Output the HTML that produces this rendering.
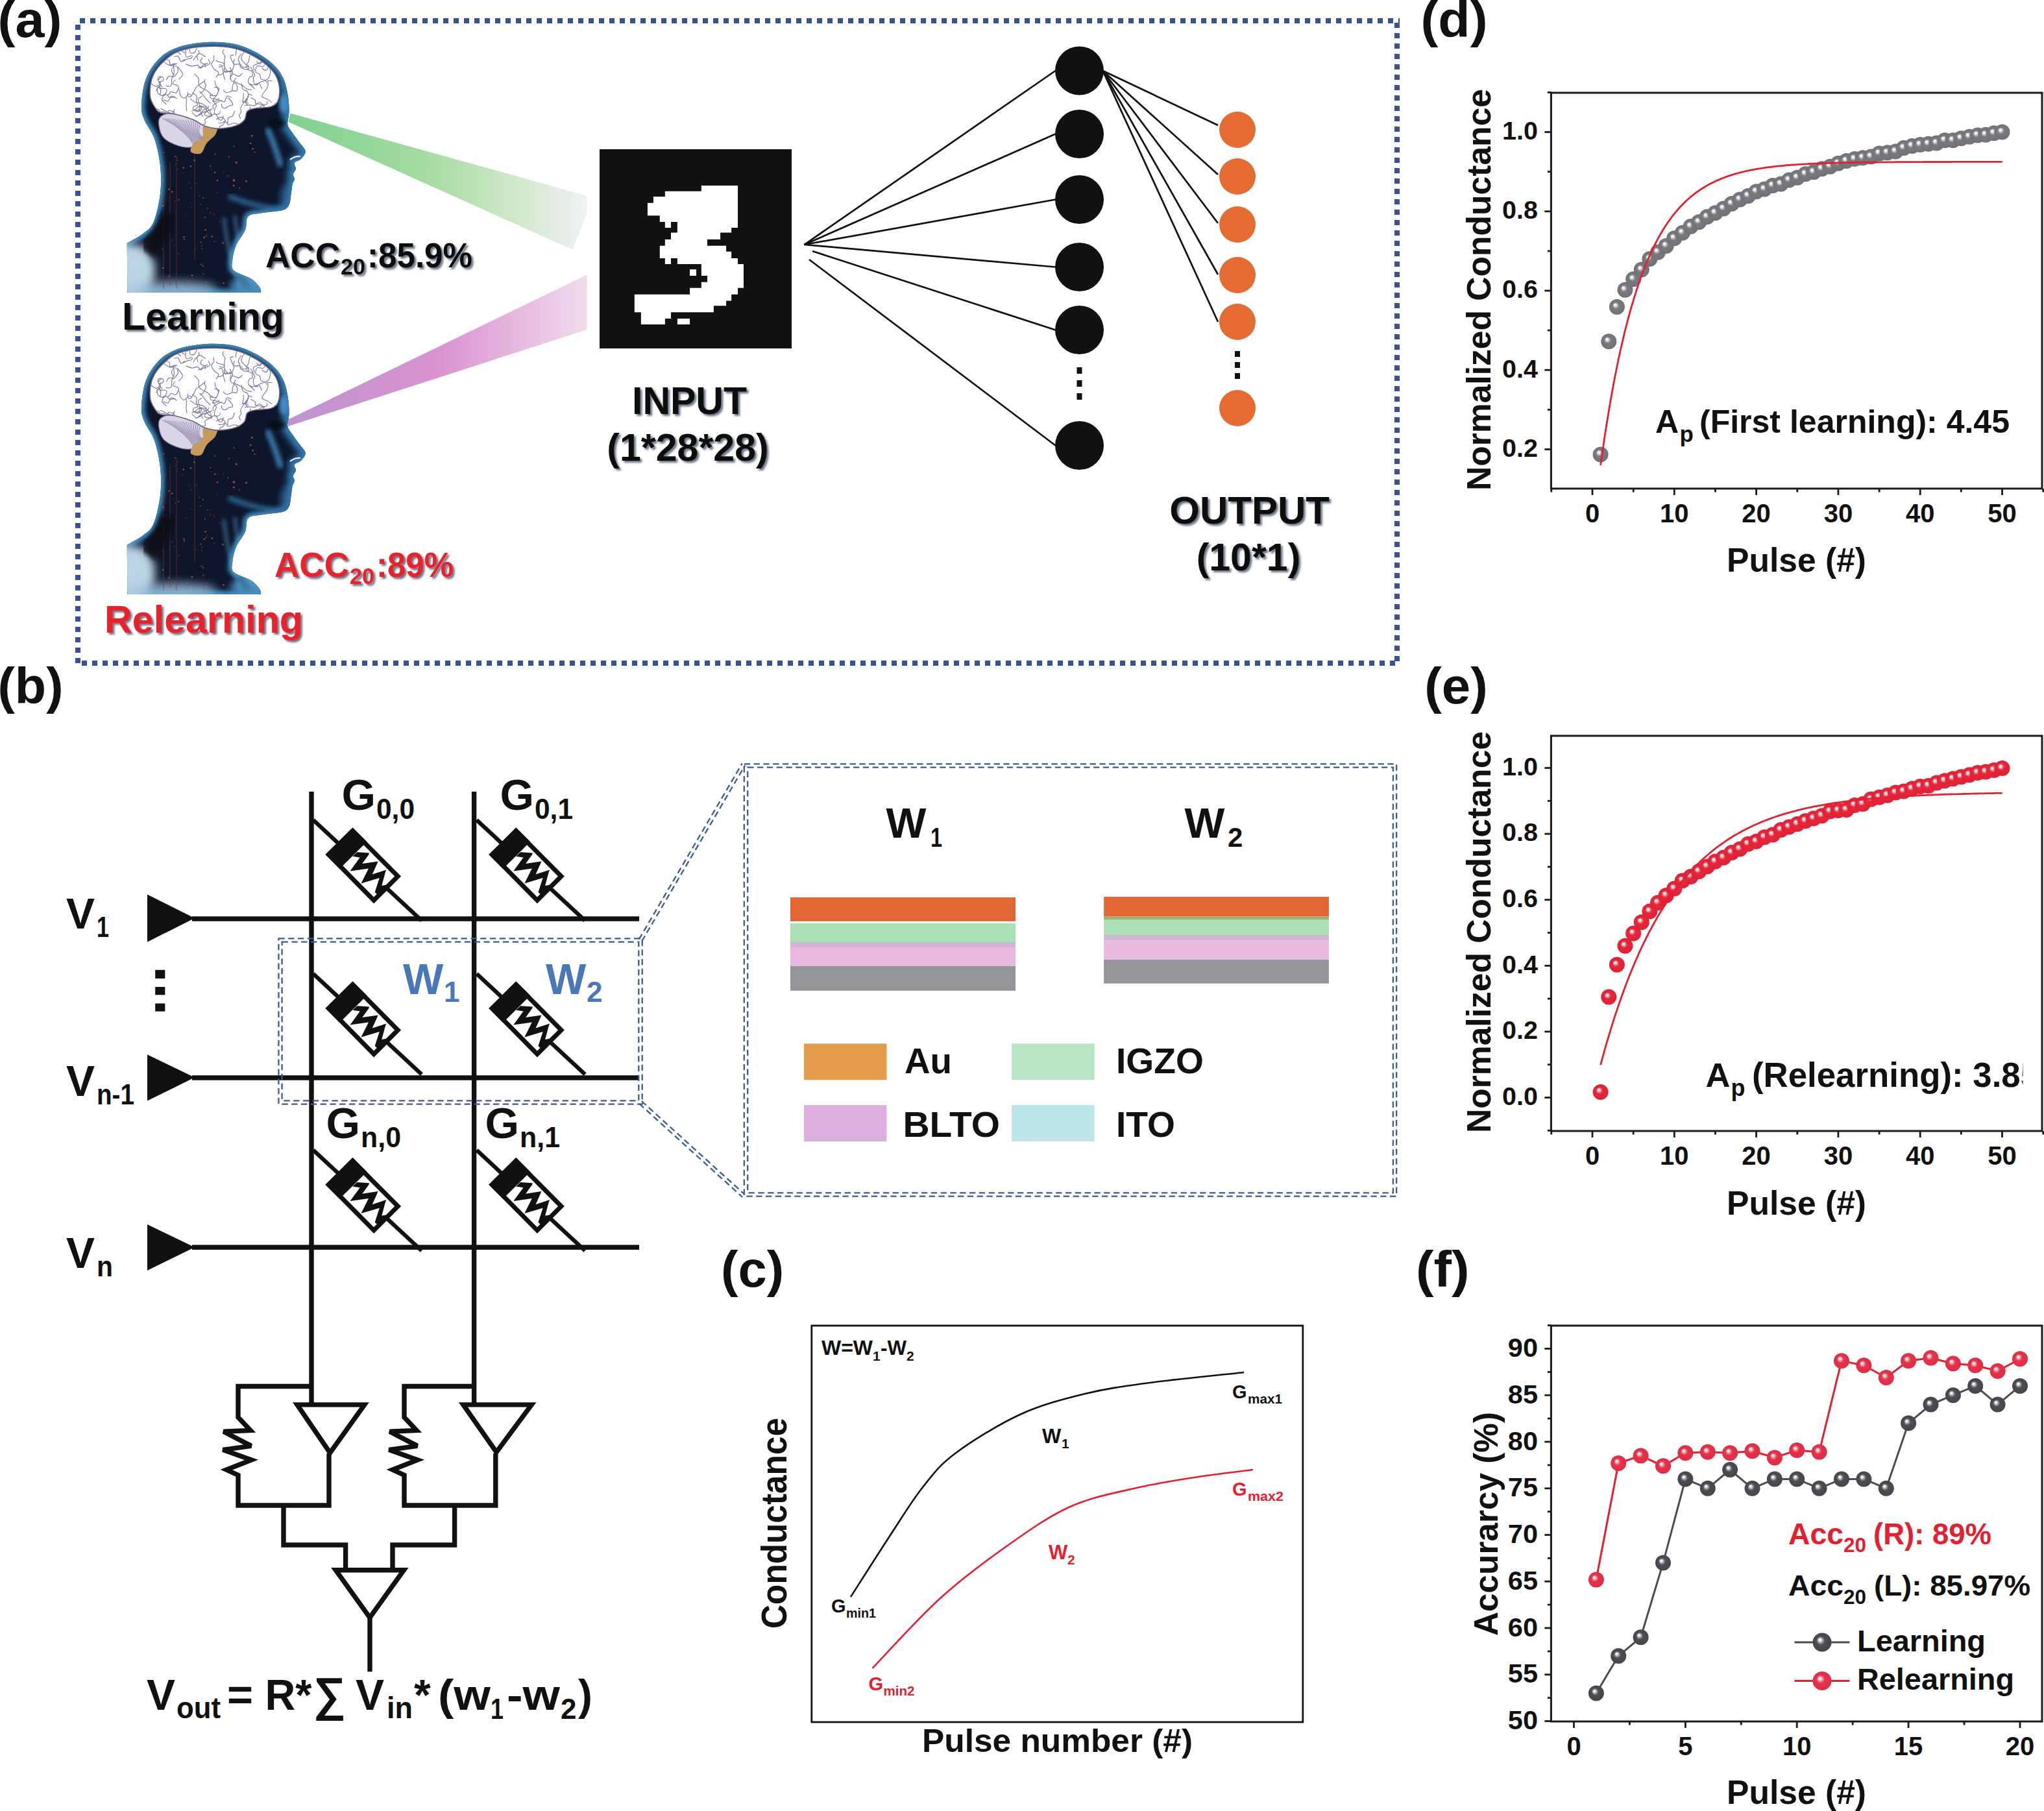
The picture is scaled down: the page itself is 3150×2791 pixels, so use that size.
<!DOCTYPE html>
<html><head><meta charset="utf-8"><title>figure</title>
<style>
html,body{margin:0;padding:0;background:#fff;}
svg{display:block;}
text{font-family:"Liberation Sans",sans-serif;}
</style></head>
<body>
<svg width="3150" height="2791" viewBox="0 0 3150 2791">
<rect width="3150" height="2791" fill="#fff"/>

<defs>
 <linearGradient id="gBeam" x1="446" y1="0" x2="905" y2="0" gradientUnits="userSpaceOnUse">
  <stop offset="0" stop-color="#80d191"/>
  <stop offset="0.45" stop-color="#a4dba0"/>
  <stop offset="0.75" stop-color="#cfe8c8"/>
  <stop offset="1" stop-color="#f0f2f7"/>
 </linearGradient>
 <linearGradient id="pBeam" x1="446" y1="0" x2="905" y2="0" gradientUnits="userSpaceOnUse">
  <stop offset="0" stop-color="#c093d2"/>
  <stop offset="0.5" stop-color="#d993cf"/>
  <stop offset="0.8" stop-color="#e8bde2"/>
  <stop offset="1" stop-color="#f0dcee"/>
 </linearGradient>
 <radialGradient id="sphG" cx="0.5" cy="0.5" r="0.5" fx="0.37" fy="0.35">
  <stop offset="0" stop-color="#ffffff"/>
  <stop offset="0.12" stop-color="#f2f2f3"/>
  <stop offset="0.3" stop-color="#a9abaf"/>
  <stop offset="0.42" stop-color="#787a80"/>
  <stop offset="1" stop-color="#707278"/>
 </radialGradient>
 <radialGradient id="sphR" cx="0.5" cy="0.5" r="0.5" fx="0.37" fy="0.35">
  <stop offset="0" stop-color="#ffffff"/>
  <stop offset="0.12" stop-color="#fbe6e9"/>
  <stop offset="0.3" stop-color="#ee6d7d"/>
  <stop offset="0.42" stop-color="#e5263b"/>
  <stop offset="1" stop-color="#df2236"/>
 </radialGradient>
 <radialGradient id="sphD" cx="0.5" cy="0.5" r="0.5" fx="0.37" fy="0.35">
  <stop offset="0" stop-color="#ffffff"/>
  <stop offset="0.12" stop-color="#eeeeef"/>
  <stop offset="0.3" stop-color="#8e9095"/>
  <stop offset="0.45" stop-color="#4b4d53"/>
  <stop offset="1" stop-color="#44464c"/>
 </radialGradient>
 <radialGradient id="sphF" cx="0.5" cy="0.5" r="0.5" fx="0.37" fy="0.35">
  <stop offset="0" stop-color="#ffffff"/>
  <stop offset="0.12" stop-color="#fbe7ea"/>
  <stop offset="0.3" stop-color="#ee7687"/>
  <stop offset="0.45" stop-color="#e3324a"/>
  <stop offset="1" stop-color="#df2d45"/>
 </radialGradient>
 <filter id="tsh" x="-5%" y="-10%" width="115%" height="130%">
  <feGaussianBlur in="SourceAlpha" stdDeviation="1.6"/>
  <feOffset dx="3" dy="3" result="b"/>
  <feFlood flood-color="#3c4660" flood-opacity="0.75"/>
  <feComposite in2="b" operator="in"/>
  <feMerge><feMergeNode/><feMergeNode in="SourceGraphic"/></feMerge>
 </filter>
</defs>

<defs>
<clipPath id="silClip"><path d="M195.8,374.7 C199.9,372.3 213.4,365.5 220.2,360.2 C227.0,354.9 232.0,352.8 236.4,342.8 C240.8,332.8 245.0,314.4 246.8,300.0 C248.6,285.6 248.6,270.7 247.1,256.3 C245.6,241.9 242.0,225.5 237.9,213.6 C233.8,201.7 225.8,193.2 222.5,184.7 C219.2,176.2 217.6,172.8 218.0,162.4 C218.4,152.0 220.2,134.0 224.7,122.1 C229.2,110.2 236.7,99.0 244.9,90.8 C253.1,82.6 261.6,77.2 273.9,72.9 C286.2,68.6 304.5,66.0 318.7,65.1 C332.9,64.2 346.6,64.9 358.9,67.3 C371.2,69.7 382.1,74.2 392.5,79.6 C402.9,85.0 414.2,92.6 421.6,99.7 C429.1,106.8 433.5,113.9 437.2,122.1 C440.9,130.3 442.5,140.4 443.9,148.9 C445.3,157.4 445.5,165.8 445.4,173.0 C445.3,180.2 442.4,186.8 443.3,192.0 C444.2,197.2 447.7,200.0 450.6,204.5 C453.6,209.0 457.7,214.3 461.0,219.0 C464.3,223.7 470.1,228.7 470.6,232.9 C471.2,237.1 467.1,241.4 464.3,244.4 C461.5,247.4 455.2,248.1 453.8,250.7 C452.4,253.3 456.2,257.1 455.9,260.1 C455.5,263.1 452.0,265.9 451.7,268.5 C451.4,271.1 454.0,273.3 453.8,275.9 C453.6,278.5 451.5,280.4 450.6,284.3 C449.7,288.2 449.4,293.8 448.5,299.0 C447.6,304.2 447.7,311.5 445.4,315.7 C443.1,319.9 441.9,322.0 434.9,324.1 C427.9,326.2 412.1,326.7 403.4,328.3 C394.7,329.9 386.8,329.2 382.5,333.6 C378.2,338.0 381.0,347.1 377.9,354.4 C374.8,361.7 367.3,369.9 364.0,377.6 C360.7,385.3 358.8,394.3 358.2,400.8 C357.6,407.3 355.4,411.9 360.2,416.7 C365.0,421.5 380.5,425.4 387.2,429.8 C393.9,434.2 397.7,439.5 400.2,443.0 C402.7,446.5 401.9,449.7 402.2,451.0 L196.4,451 Z"/></clipPath>
<clipPath id="cbClip"><path d="M244.9,193.7 C244.2,188.5 243.8,183.7 247.1,180.3 C250.4,176.9 257.6,174.6 265.0,173.5 C272.4,172.4 283.6,171.2 291.8,173.5 C300.0,175.8 309.0,181.4 314.2,187.0 C319.4,192.6 323.1,201.5 323.1,207.1 C323.1,212.7 319.4,217.2 314.2,220.5 C309.0,223.8 299.2,226.8 291.8,227.2 C284.4,227.6 276.2,225.3 269.5,222.7 C262.8,220.1 255.7,216.4 251.6,211.6 C247.5,206.8 245.7,198.9 244.9,193.7Z"/></clipPath>
<clipPath id="brClip"><path d="M231.4,148.9 C230.7,141.8 231.1,130.3 233.7,122.1 C236.3,113.9 240.4,106.8 247.1,99.7 C253.8,92.6 262.7,84.2 273.9,79.6 C285.1,74.9 300.0,72.7 314.2,71.8 C328.4,70.9 345.5,71.2 358.9,74.0 C372.3,76.8 384.2,82.3 394.7,88.5 C405.1,94.7 415.6,103.4 421.6,110.9 C427.6,118.4 429.4,125.9 430.5,133.3 C431.6,140.8 430.5,150.4 428.3,155.6 C426.1,160.8 422.7,162.7 417.1,164.6 C411.5,166.5 400.7,165.7 394.7,166.8 C388.7,167.9 384.3,168.3 381.3,171.3 C378.3,174.3 379.8,181.0 376.8,184.7 C373.8,188.4 370.1,191.5 363.4,193.7 C356.7,195.9 344.8,198.1 336.6,198.1 C328.4,198.1 320.6,195.9 314.2,193.7 C307.8,191.5 305.9,187.7 298.5,184.7 C291.1,181.7 278.1,177.7 269.5,175.8 C260.9,173.9 252.3,175.4 247.1,173.5 C241.9,171.6 240.8,168.7 238.2,164.6 C235.6,160.5 232.2,156.0 231.4,148.9Z"/></clipPath>
<filter id="hb3" x="-20%" y="-20%" width="140%" height="140%"><feGaussianBlur stdDeviation="3"/></filter>
<filter id="hb5" x="-50%" y="-50%" width="200%" height="200%"><feGaussianBlur stdDeviation="5"/></filter>
<filter id="hb6" x="-50%" y="-50%" width="200%" height="200%"><feGaussianBlur stdDeviation="7"/></filter>
</defs><defs>
<g id="headG">
 <path d="M195.8,374.7 C199.9,372.3 213.4,365.5 220.2,360.2 C227.0,354.9 232.0,352.8 236.4,342.8 C240.8,332.8 245.0,314.4 246.8,300.0 C248.6,285.6 248.6,270.7 247.1,256.3 C245.6,241.9 242.0,225.5 237.9,213.6 C233.8,201.7 225.8,193.2 222.5,184.7 C219.2,176.2 217.6,172.8 218.0,162.4 C218.4,152.0 220.2,134.0 224.7,122.1 C229.2,110.2 236.7,99.0 244.9,90.8 C253.1,82.6 261.6,77.2 273.9,72.9 C286.2,68.6 304.5,66.0 318.7,65.1 C332.9,64.2 346.6,64.9 358.9,67.3 C371.2,69.7 382.1,74.2 392.5,79.6 C402.9,85.0 414.2,92.6 421.6,99.7 C429.1,106.8 433.5,113.9 437.2,122.1 C440.9,130.3 442.5,140.4 443.9,148.9 C445.3,157.4 445.5,165.8 445.4,173.0 C445.3,180.2 442.4,186.8 443.3,192.0 C444.2,197.2 447.7,200.0 450.6,204.5 C453.6,209.0 457.7,214.3 461.0,219.0 C464.3,223.7 470.1,228.7 470.6,232.9 C471.2,237.1 467.1,241.4 464.3,244.4 C461.5,247.4 455.2,248.1 453.8,250.7 C452.4,253.3 456.2,257.1 455.9,260.1 C455.5,263.1 452.0,265.9 451.7,268.5 C451.4,271.1 454.0,273.3 453.8,275.9 C453.6,278.5 451.5,280.4 450.6,284.3 C449.7,288.2 449.4,293.8 448.5,299.0 C447.6,304.2 447.7,311.5 445.4,315.7 C443.1,319.9 441.9,322.0 434.9,324.1 C427.9,326.2 412.1,326.7 403.4,328.3 C394.7,329.9 386.8,329.2 382.5,333.6 C378.2,338.0 381.0,347.1 377.9,354.4 C374.8,361.7 367.3,369.9 364.0,377.6 C360.7,385.3 358.8,394.3 358.2,400.8 C357.6,407.3 355.4,411.9 360.2,416.7 C365.0,421.5 380.5,425.4 387.2,429.8 C393.9,434.2 397.7,439.5 400.2,443.0 C402.7,446.5 401.9,449.7 402.2,451.0 L196.4,451 Z" fill="#0e162c"/>
 <g clip-path="url(#silClip)">
  <path d="M195.8,374.7 C199.9,372.3 213.4,365.5 220.2,360.2 C227.0,354.9 232.0,352.8 236.4,342.8 C240.8,332.8 245.0,314.4 246.8,300.0 C248.6,285.6 248.6,270.7 247.1,256.3 C245.6,241.9 242.0,225.5 237.9,213.6 C233.8,201.7 225.8,193.2 222.5,184.7 C219.2,176.2 217.6,172.8 218.0,162.4 C218.4,152.0 220.2,134.0 224.7,122.1 C229.2,110.2 236.7,99.0 244.9,90.8 C253.1,82.6 261.6,77.2 273.9,72.9 C286.2,68.6 304.5,66.0 318.7,65.1 C332.9,64.2 346.6,64.9 358.9,67.3 C371.2,69.7 382.1,74.2 392.5,79.6 C402.9,85.0 414.2,92.6 421.6,99.7 C429.1,106.8 433.5,113.9 437.2,122.1 C440.9,130.3 442.5,140.4 443.9,148.9 C445.3,157.4 445.5,165.8 445.4,173.0 C445.3,180.2 442.4,186.8 443.3,192.0 C444.2,197.2 447.7,200.0 450.6,204.5 C453.6,209.0 457.7,214.3 461.0,219.0 C464.3,223.7 470.1,228.7 470.6,232.9 C471.2,237.1 467.1,241.4 464.3,244.4 C461.5,247.4 455.2,248.1 453.8,250.7 C452.4,253.3 456.2,257.1 455.9,260.1 C455.5,263.1 452.0,265.9 451.7,268.5 C451.4,271.1 454.0,273.3 453.8,275.9 C453.6,278.5 451.5,280.4 450.6,284.3 C449.7,288.2 449.4,293.8 448.5,299.0 C447.6,304.2 447.7,311.5 445.4,315.7 C443.1,319.9 441.9,322.0 434.9,324.1 C427.9,326.2 412.1,326.7 403.4,328.3 C394.7,329.9 386.8,329.2 382.5,333.6 C378.2,338.0 381.0,347.1 377.9,354.4 C374.8,361.7 367.3,369.9 364.0,377.6 C360.7,385.3 358.8,394.3 358.2,400.8 C357.6,407.3 355.4,411.9 360.2,416.7 C365.0,421.5 380.5,425.4 387.2,429.8 C393.9,434.2 397.7,439.5 400.2,443.0 C402.7,446.5 401.9,449.7 402.2,451.0 L196.4,451 Z" fill="none" stroke="#3f8cc0" stroke-width="11" filter="url(#hb3)"/>
  <ellipse cx="440" cy="302" rx="9" ry="16" fill="#2a6290" opacity="0.6" filter="url(#hb5)"/>
  <ellipse cx="205" cy="418" rx="34" ry="42" fill="#bcd5e6" filter="url(#hb6)"/>
  <ellipse cx="265" cy="445" rx="70" ry="12" fill="#9fc3dc" opacity="0.8" filter="url(#hb6)"/>
  <ellipse cx="380" cy="440" rx="26" ry="14" fill="#4f93c2" opacity="0.8" filter="url(#hb5)"/>
  <path d="M437.2,122.1 C438.3,126.6 442.5,140.4 443.9,148.9 C445.3,157.4 445.5,165.8 445.4,173.0 C445.3,180.2 442.4,186.8 443.3,192.0 C444.2,197.2 447.7,200.0 450.6,204.5 C453.6,209.0 457.7,214.3 461.0,219.0 C464.3,223.7 470.1,228.7 470.6,232.9 C471.2,237.1 467.1,241.4 464.3,244.4 C461.5,247.4 455.2,248.1 453.8,250.7 C452.4,253.3 456.2,257.1 455.9,260.1 C455.5,263.1 452.0,265.9 451.7,268.5 C451.4,271.1 454.0,273.3 453.8,275.9 C453.6,278.5 451.5,280.4 450.6,284.3 C449.7,288.2 449.4,293.8 448.5,299.0 C447.6,304.2 447.7,311.5 445.4,315.7 C443.1,319.9 436.6,322.7 434.9,324.1" fill="none" stroke="#2f6fa2" stroke-width="22" opacity="0.7" filter="url(#hb5)"/>
  <ellipse cx="437" cy="160" rx="7" ry="15" fill="#4a93c8" opacity="0.9" filter="url(#hb3)"/>
  <path d="M412,198 Q424,225 433,256" fill="none" stroke="#3f86bb" stroke-width="9" opacity="0.85" filter="url(#hb3)"/>
  <path d="M352,302 Q400,322 442,322" fill="none" stroke="#336fa0" stroke-width="8" opacity="0.8" filter="url(#hb3)"/>
  <ellipse cx="428" cy="190" rx="12" ry="6" fill="#05070c" opacity="0.9" filter="url(#hb3)"/>
  <path d="M447,246 Q455,240 463,241" fill="none" stroke="#e2ecf3" stroke-width="2.2"/>
  <path d="M345,335 Q350,390 372,448 M362,332 Q366,385 392,446" fill="none" stroke="#58a6d6" stroke-width="3" opacity="0.85" filter="url(#hb3)"/>
  <g fill="#c8623f" opacity="0.75"><circle cx="311.1" cy="378.2" r="0.8"/><circle cx="275.4" cy="391.0" r="0.8"/><circle cx="318.7" cy="439.4" r="1.0"/><circle cx="307.3" cy="301.7" r="0.8"/><circle cx="281.2" cy="266.6" r="0.6"/><circle cx="265.6" cy="369.7" r="0.8"/><circle cx="286.5" cy="441.4" r="1.0"/><circle cx="319.7" cy="320.7" r="0.8"/><circle cx="260.4" cy="425.5" r="1.0"/><circle cx="269.6" cy="310.4" r="0.6"/><circle cx="251.2" cy="413.0" r="1.3"/><circle cx="315.9" cy="335.1" r="1.0"/><circle cx="294.0" cy="256.2" r="1.3"/><circle cx="250.5" cy="278.3" r="1.3"/><circle cx="316.6" cy="354.2" r="1.3"/><circle cx="330.4" cy="371.9" r="0.8"/><circle cx="314.6" cy="366.1" r="1.3"/><circle cx="291.1" cy="282.2" r="0.6"/><circle cx="335.0" cy="278.3" r="1.3"/><circle cx="317.7" cy="363.5" r="1.0"/><circle cx="330.7" cy="331.2" r="0.6"/><circle cx="309.0" cy="315.1" r="0.8"/><circle cx="335.0" cy="297.2" r="0.6"/><circle cx="286.9" cy="332.8" r="0.6"/><circle cx="253.6" cy="344.5" r="0.8"/><circle cx="318.0" cy="434.3" r="0.8"/><circle cx="299.3" cy="247.2" r="1.3"/><circle cx="301.4" cy="382.8" r="0.6"/><circle cx="310.7" cy="407.4" r="1.0"/><circle cx="289.0" cy="433.6" r="0.8"/><circle cx="344.1" cy="265.4" r="0.6"/><circle cx="319.3" cy="360.1" r="0.6"/><circle cx="274.0" cy="309.0" r="0.6"/><circle cx="251.3" cy="317.1" r="1.3"/><circle cx="309.7" cy="373.5" r="1.0"/><circle cx="260.4" cy="291.8" r="1.3"/><circle cx="339.3" cy="341.0" r="0.8"/><circle cx="344.5" cy="436.4" r="1.3"/><circle cx="270.1" cy="253.4" r="0.6"/><circle cx="326.9" cy="364.5" r="1.3"/><circle cx="311.0" cy="383.6" r="0.8"/><circle cx="283.5" cy="365.5" r="1.3"/><circle cx="294.5" cy="289.8" r="0.8"/><circle cx="324.1" cy="328.3" r="0.8"/><circle cx="275.4" cy="307.8" r="1.0"/><circle cx="343.4" cy="374.3" r="1.3"/><circle cx="250.3" cy="383.8" r="1.0"/><circle cx="284.0" cy="369.0" r="1.0"/><circle cx="295.6" cy="319.3" r="0.6"/><circle cx="312.6" cy="304.7" r="1.0"/><circle cx="331.2" cy="237.6" r="1.0"/><circle cx="324.5" cy="255.9" r="1.0"/><circle cx="310.2" cy="228.3" r="0.6"/><circle cx="269.9" cy="240.8" r="1.0"/><circle cx="273.8" cy="247.3" r="0.8"/><circle cx="331.1" cy="265.8" r="1.3"/><circle cx="282.9" cy="258.6" r="1.3"/><circle cx="325.2" cy="261.9" r="0.6"/><circle cx="313.5" cy="421.7" r="1.0"/><circle cx="268.8" cy="377.4" r="0.6"/><circle cx="320.5" cy="321.5" r="0.6"/><circle cx="302.7" cy="283.2" r="0.8"/><circle cx="328.6" cy="329.1" r="0.6"/><circle cx="296.0" cy="424.2" r="1.3"/><circle cx="273.4" cy="261.2" r="0.6"/><circle cx="265.2" cy="295.6" r="1.3"/><circle cx="313.2" cy="409.9" r="1.0"/><circle cx="290.5" cy="445.0" r="0.6"/><circle cx="267.1" cy="304.3" r="0.6"/><circle cx="252.0" cy="235.1" r="1.0"/><circle cx="388.5" cy="209.4" r="1.4"/><circle cx="369.1" cy="289.8" r="1.0"/><circle cx="352.8" cy="241.6" r="1.0"/><circle cx="360.3" cy="286.2" r="1.4"/><circle cx="360.5" cy="277.9" r="1.8"/><circle cx="386.2" cy="221.1" r="1.4"/><circle cx="360.5" cy="225.2" r="1.0"/><circle cx="389.6" cy="229.3" r="1.4"/><circle cx="364.2" cy="250.4" r="1.4"/><circle cx="392.4" cy="234.5" r="1.0"/><circle cx="379.3" cy="279.2" r="1.4"/><circle cx="351.5" cy="271.3" r="1.0"/></g>
  <path d="M252,300 V445 M262,250 V440 M272,240 V445 M300,236 V400" stroke="#7a3a34" stroke-width="1" opacity="0.7"/>
  <path d="M228,390 Q250,360 262,330" fill="none" stroke="#101012" stroke-width="26" opacity="0.85" filter="url(#hb3)"/>
 </g>
 <path d="M244.9,193.7 C244.2,188.5 243.8,183.7 247.1,180.3 C250.4,176.9 257.6,174.6 265.0,173.5 C272.4,172.4 283.6,171.2 291.8,173.5 C300.0,175.8 309.0,181.4 314.2,187.0 C319.4,192.6 323.1,201.5 323.1,207.1 C323.1,212.7 319.4,217.2 314.2,220.5 C309.0,223.8 299.2,226.8 291.8,227.2 C284.4,227.6 276.2,225.3 269.5,222.7 C262.8,220.1 255.7,216.4 251.6,211.6 C247.5,206.8 245.7,198.9 244.9,193.7Z" fill="#d9d4e6" stroke="#7d7394" stroke-width="1.2"/>
 <path d="M250.0,182.0 Q285.0,200.0 300.0,225.0 M254.0,182.3 Q286.0,200.7 301.2,224.2 M258.0,182.7 Q287.0,201.3 302.4,223.4 M262.0,183.0 Q288.0,202.0 303.6,222.6 M266.0,183.3 Q289.0,202.7 304.8,221.8 M270.0,183.7 Q290.0,203.3 306.0,221.0 M274.0,184.0 Q291.0,204.0 307.2,220.2 M278.0,184.3 Q292.0,204.7 308.4,219.4 M282.0,184.7 Q293.0,205.3 309.6,218.6 M286.0,185.0 Q294.0,206.0 310.8,217.8 M290.0,185.3 Q295.0,206.7 312.0,217.0 M294.0,185.7 Q296.0,207.3 313.2,216.2 M298.0,186.0 Q297.0,208.0 314.4,215.4 M302.0,186.3 Q298.0,208.7 315.6,214.6 M306.0,186.7 Q299.0,209.3 316.8,213.8 M310.0,187.0 Q300.0,210.0 318.0,213.0" fill="none" stroke="#8a80a6" stroke-width="0.9" clip-path="url(#cbClip)"/>
 <path d="M314.2,193.7 C317.9,190.3 331.3,189.2 334.3,191.4 C337.3,193.6 334.7,202.2 332.1,207.1 C329.5,211.9 322.4,215.7 318.7,220.5 C315.0,225.3 313.8,234.0 309.7,236.2 C305.6,238.4 296.0,236.5 294.1,233.9 C292.2,231.3 295.5,224.2 298.5,220.5 C301.5,216.8 309.4,216.1 312.0,211.6 C314.6,207.1 310.5,197.1 314.2,193.7Z" fill="#c29a5c"/>
 <path d="M231.4,148.9 C230.7,141.8 231.1,130.3 233.7,122.1 C236.3,113.9 240.4,106.8 247.1,99.7 C253.8,92.6 262.7,84.2 273.9,79.6 C285.1,74.9 300.0,72.7 314.2,71.8 C328.4,70.9 345.5,71.2 358.9,74.0 C372.3,76.8 384.2,82.3 394.7,88.5 C405.1,94.7 415.6,103.4 421.6,110.9 C427.6,118.4 429.4,125.9 430.5,133.3 C431.6,140.8 430.5,150.4 428.3,155.6 C426.1,160.8 422.7,162.7 417.1,164.6 C411.5,166.5 400.7,165.7 394.7,166.8 C388.7,167.9 384.3,168.3 381.3,171.3 C378.3,174.3 379.8,181.0 376.8,184.7 C373.8,188.4 370.1,191.5 363.4,193.7 C356.7,195.9 344.8,198.1 336.6,198.1 C328.4,198.1 320.6,195.9 314.2,193.7 C307.8,191.5 305.9,187.7 298.5,184.7 C291.1,181.7 278.1,177.7 269.5,175.8 C260.9,173.9 252.3,175.4 247.1,173.5 C241.9,171.6 240.8,168.7 238.2,164.6 C235.6,160.5 232.2,156.0 231.4,148.9Z" fill="#fdfdfe" stroke="#6b5f88" stroke-width="1.6"/>
 <path d="M298.2,93.1 C298.5,92.4 298.8,90.9 300.2,89.0 C301.7,87.2 305.8,84.0 306.7,82.1 C307.6,80.2 305.9,78.4 305.7,77.7 M316.3,103.9 C316.2,103.1 316.9,100.6 315.6,99.2 C314.4,97.8 309.4,97.3 308.8,95.5 C308.2,93.8 311.4,89.9 312.0,88.8 M312.2,192.2 C312.9,191.8 316.0,191.5 316.6,190.2 C317.2,188.9 315.2,185.8 315.7,184.4 C316.2,182.9 317.9,182.3 319.8,181.3 C321.7,180.3 325.9,178.9 327.1,178.5 M307.5,140.7 C308.3,141.6 310.7,143.8 312.4,145.7 C314.1,147.7 315.7,150.3 317.7,152.6 C319.7,154.8 323.3,158.2 324.4,159.3 M305.4,104.8 C306.3,104.5 309.1,103.7 311.0,103.1 C312.9,102.6 314.7,102.2 316.8,101.3 C318.8,100.4 322.8,99.4 323.5,97.7 C324.2,96.0 321.4,92.2 321.0,91.1 M267.7,116.0 C267.1,114.8 264.4,111.0 264.4,108.7 C264.5,106.4 266.3,103.1 267.9,102.1 C269.4,101.2 271.8,102.1 273.6,103.2 C275.4,104.4 277.3,107.0 278.6,108.9 C279.9,110.9 282.1,112.8 281.5,115.0 C281.0,117.2 276.3,121.1 275.3,122.3 M327.0,154.7 C328.1,156.0 332.7,160.2 333.4,162.4 C334.0,164.5 331.5,165.4 331.1,167.6 C330.7,169.8 329.9,174.3 331.0,175.6 C332.1,176.9 336.3,176.2 337.7,175.4 C339.2,174.6 339.3,171.8 339.6,171.1 M247.3,167.2 C248.7,167.9 253.6,170.4 255.8,171.4 C258.0,172.5 258.6,173.2 260.3,173.6 C262.0,174.1 264.5,175.2 265.9,174.3 C267.4,173.4 268.3,169.4 268.8,168.4 M341.6,159.8 C341.7,160.6 341.2,163.5 342.1,164.6 C343.1,165.8 345.4,166.9 347.2,166.6 C349.0,166.3 351.2,163.8 353.1,163.0 C355.0,162.2 358.0,163.0 358.5,161.7 C359.1,160.5 357.5,157.5 356.3,155.6 C355.0,153.7 351.9,151.3 351.0,150.4 M419.0,157.9 C417.9,157.0 414.6,154.5 412.1,152.9 C409.6,151.4 404.7,150.6 403.9,148.7 C403.1,146.8 406.2,143.5 407.4,141.4 C408.6,139.3 410.3,138.2 411.2,136.3 C412.2,134.3 412.9,131.6 413.1,129.7 C413.4,127.7 411.8,125.4 412.8,124.5 C413.9,123.7 418.4,124.7 419.5,124.7 M257.1,147.1 C257.8,146.7 260.0,145.7 261.1,144.7 C262.1,143.7 261.7,141.4 263.3,141.2 C264.9,140.9 268.9,143.6 270.7,143.2 C272.5,142.8 273.3,140.6 274.0,138.8 C274.7,137.0 276.0,134.3 274.7,132.7 C273.5,131.0 267.2,130.6 266.4,129.0 C265.6,127.4 269.2,124.1 269.8,123.1 M328.9,85.3 C329.0,86.4 330.1,90.0 329.7,92.1 C329.2,94.3 325.9,95.8 326.0,98.2 C326.1,100.7 328.5,104.7 330.3,106.9 C332.1,109.2 336.4,109.7 336.9,111.8 C337.3,113.9 333.6,118.1 332.9,119.4 M293.2,152.2 C294.5,153.1 298.7,156.7 300.8,157.7 C303.0,158.8 304.1,158.1 306.1,158.5 C308.1,159.0 310.8,159.3 312.9,160.5 C314.9,161.7 317.8,163.4 318.5,165.7 C319.2,168.0 317.4,172.7 317.1,174.2 M273.5,103.7 C273.6,104.9 275.0,108.3 274.0,110.7 C273.0,113.1 269.7,117.1 267.5,118.2 C265.3,119.3 262.6,116.5 260.7,117.3 C258.8,118.2 256.9,122.4 256.1,123.4 M302.1,172.0 C303.1,171.8 306.8,171.8 308.2,170.8 C309.6,169.8 310.5,167.5 310.4,165.9 C310.3,164.4 308.2,163.9 307.4,161.6 C306.6,159.4 305.0,154.6 305.7,152.4 C306.4,150.2 310.4,149.2 311.4,148.5 M361.4,171.0 C360.9,172.3 359.9,177.3 358.4,179.1 C356.8,180.9 353.2,179.7 351.9,181.6 C350.7,183.4 351.1,188.8 351.0,190.2 M299.8,171.1 C301.2,170.7 306.7,169.8 307.9,168.5 C309.1,167.3 306.6,164.5 307.2,163.6 C307.8,162.8 309.6,163.2 311.3,163.5 C313.1,163.7 315.9,164.1 317.9,165.3 C319.9,166.5 321.9,168.8 323.3,170.8 C324.6,172.7 325.7,175.9 326.2,176.9 M416.0,93.7 C415.6,95.3 415.0,100.8 413.8,103.3 C412.7,105.8 410.8,108.4 409.1,108.6 C407.4,108.9 404.6,105.4 403.7,104.7 M403.4,174.1 C404.5,174.5 408.5,175.2 410.0,176.5 C411.4,177.9 411.3,179.8 411.9,182.2 C412.4,184.6 411.8,189.7 413.4,191.0 C415.1,192.4 420.0,189.1 421.8,190.2 C423.6,191.4 423.9,196.5 424.3,197.8 M392.5,137.0 C391.9,136.4 390.7,135.2 389.1,133.5 C387.5,131.8 383.6,129.0 382.8,126.7 C382.1,124.3 383.4,120.8 384.4,119.2 C385.4,117.6 388.2,118.7 388.8,117.1 C389.5,115.5 389.1,110.9 388.2,109.4 C387.4,108.0 385.5,109.6 384.0,108.6 C382.4,107.5 379.9,104.2 379.1,103.3 M328.6,168.2 C328.6,167.2 327.6,164.2 328.5,162.5 C329.4,160.8 331.9,159.5 334.1,158.2 C336.3,156.8 340.5,155.0 341.7,154.4 M411.2,128.2 C410.8,127.4 410.2,124.8 408.7,123.6 C407.1,122.5 403.3,123.0 402.0,121.5 C400.6,120.0 401.7,116.3 400.4,114.6 C399.1,112.9 394.9,113.4 394.2,111.2 C393.4,109.1 394.2,103.3 396.1,101.9 C398.0,100.4 403.2,103.3 405.4,102.5 C407.6,101.7 408.7,98.0 409.4,97.1 M316.0,122.1 C315.8,123.0 314.9,125.7 315.1,127.3 C315.3,128.8 317.7,129.3 317.4,131.4 C317.1,133.6 314.8,138.1 313.3,140.2 C311.7,142.2 309.1,143.2 308.3,143.9 M284.6,91.5 C283.6,92.1 280.3,95.8 278.7,95.1 C277.1,94.3 276.5,88.3 274.7,87.0 C273.0,85.7 269.3,87.2 268.2,87.2 M335.0,115.7 C336.0,115.5 339.2,115.6 341.1,114.7 C343.0,113.8 344.3,111.1 346.2,110.3 C348.1,109.6 350.5,110.2 352.5,110.2 C354.6,110.2 357.4,109.6 358.3,110.5 C359.2,111.3 358.2,114.4 358.1,115.1 M412.4,102.4 C412.4,101.7 411.6,99.4 412.3,98.2 C413.1,96.9 416.5,96.5 416.9,94.9 C417.3,93.3 415.2,89.7 414.9,88.7 M411.0,173.3 C410.8,174.4 410.1,178.1 409.7,180.3 C409.4,182.4 408.1,183.9 408.8,186.1 C409.5,188.3 411.3,192.4 413.7,193.4 C416.1,194.5 421.5,192.7 423.0,192.5 M287.6,77.0 C288.6,75.9 293.7,72.4 293.6,70.1 C293.5,67.8 289.1,65.2 287.3,63.5 C285.4,61.7 284.3,61.6 282.5,59.8 C280.6,58.0 277.9,53.9 276.0,52.7 C274.2,51.5 272.1,52.6 271.3,52.5 M337.2,103.6 C338.0,103.5 341.1,101.8 342.2,103.0 C343.3,104.2 343.5,108.4 343.9,110.6 C344.3,112.7 344.1,113.6 344.6,115.8 C345.1,117.9 346.5,122.2 346.9,123.4 M287.9,171.4 C287.8,170.1 287.1,165.3 287.0,163.1 C286.9,160.9 287.3,160.4 287.3,158.0 C287.3,155.5 287.1,150.0 287.0,148.4 M256.4,173.3 C254.9,173.7 249.1,176.3 247.4,175.8 C245.7,175.2 247.1,171.4 246.0,170.1 C244.9,168.8 243.0,167.6 241.0,168.2 C238.9,168.8 235.7,173.1 233.7,173.9 C231.6,174.8 229.3,175.1 228.9,173.4 C228.4,171.7 230.5,165.3 230.9,163.7 M396.7,76.7 C396.1,76.3 394.1,75.8 393.0,74.4 C391.9,73.1 391.4,71.2 390.2,68.8 C389.1,66.4 386.9,62.7 386.1,59.9 C385.2,57.1 386.2,53.1 385.2,51.8 C384.2,50.5 381.0,52.1 380.1,52.2 M287.7,75.4 C286.8,74.6 284.8,71.1 282.3,70.5 C279.8,69.8 275.0,70.7 272.6,71.6 C270.2,72.5 268.1,74.5 268.2,75.8 C268.3,77.2 271.3,78.5 273.1,79.8 C274.8,81.1 277.9,83.1 278.9,83.7 M274.6,135.6 C274.9,136.3 276.2,138.2 276.8,139.9 C277.3,141.7 276.7,144.3 277.8,146.2 C279.0,148.1 281.4,151.5 283.6,151.3 C285.9,151.2 289.2,145.8 291.2,145.1 C293.1,144.5 294.7,147.2 295.5,147.6 M407.4,169.1 C407.2,168.0 407.2,164.2 405.9,162.3 C404.6,160.4 401.9,157.7 399.7,157.8 C397.4,157.9 394.6,162.1 392.2,162.7 C389.8,163.4 387.7,161.8 385.2,161.7 C382.7,161.7 378.4,162.4 377.0,162.5 M333.1,184.2 C334.4,183.6 338.8,180.4 341.1,180.6 C343.4,180.8 346.5,183.4 346.9,185.4 C347.3,187.4 344.7,191.1 343.3,192.7 C341.9,194.3 338.9,193.9 338.5,195.0 C338.1,196.1 339.7,198.1 340.7,199.3 C341.7,200.5 344.1,200.3 344.5,202.0 C344.9,203.6 343.3,208.0 343.1,209.2 M356.5,150.1 C355.5,149.8 351.9,146.9 350.2,148.0 C348.4,149.0 347.5,155.4 346.1,156.6 C344.7,157.9 343.7,156.2 341.6,155.7 C339.5,155.1 336.3,153.8 333.6,153.1 C330.8,152.3 326.5,152.3 324.9,151.1 C323.3,149.9 324.1,146.7 324.0,145.8 M381.2,102.7 C380.6,101.9 378.9,99.5 377.4,97.7 C375.9,95.8 372.7,93.9 372.1,91.6 C371.4,89.3 372.8,85.9 373.5,84.0 C374.2,82.2 376.3,81.9 376.3,80.5 C376.2,79.2 373.6,77.5 373.5,75.8 C373.3,74.0 374.9,71.1 375.2,70.2 M345.0,76.5 C344.7,77.2 342.9,79.0 343.1,80.7 C343.4,82.4 346.3,84.7 346.7,86.6 C347.2,88.6 346.0,89.9 345.8,92.3 C345.6,94.6 346.6,99.6 345.3,100.9 C344.1,102.1 339.3,99.9 338.1,99.7 M295.8,85.3 C294.4,85.8 289.1,88.6 287.4,88.0 C285.6,87.4 286.5,83.1 285.4,81.6 C284.3,80.1 281.2,80.3 280.8,79.1 C280.4,77.9 282.1,75.8 283.0,74.4 C283.9,73.0 285.7,71.3 286.2,70.7 M336.6,189.3 C337.4,189.4 339.4,190.1 341.3,189.7 C343.1,189.4 346.0,186.8 347.8,187.2 C349.5,187.6 349.5,191.7 351.7,192.2 C353.9,192.6 358.5,189.7 361.1,189.7 C363.7,189.7 365.7,190.6 367.1,192.0 C368.6,193.3 368.8,196.4 369.9,197.9 C370.9,199.4 372.8,200.5 373.4,201.0 M299.6,113.9 C300.7,115.1 305.0,118.3 306.0,121.0 C307.1,123.8 305.5,128.1 306.2,130.4 C306.9,132.8 308.2,133.5 310.3,135.1 C312.5,136.6 317.0,138.2 319.2,139.7 C321.4,141.2 322.0,142.8 323.6,144.0 C325.1,145.2 327.6,146.4 328.4,146.9 M245.3,87.2 C245.9,86.8 248.1,84.0 249.4,84.5 C250.6,85.0 250.9,88.7 252.8,90.1 C254.7,91.6 259.2,91.8 260.8,93.4 C262.4,95.1 260.6,99.1 262.2,99.9 C263.8,100.6 269.1,98.2 270.5,97.8 M312.8,180.1 C312.5,179.5 310.8,178.0 310.8,176.3 C310.8,174.6 311.3,171.5 312.8,169.9 C314.3,168.3 318.5,167.9 320.0,166.8 C321.5,165.6 321.5,163.5 321.8,162.9 M413.9,90.3 C413.4,91.0 412.5,93.8 410.6,94.7 C408.7,95.5 404.8,95.0 402.7,95.5 C400.6,96.0 399.8,96.8 397.8,97.8 C395.8,98.8 391.6,99.6 390.7,101.5 C389.7,103.4 392.0,107.9 392.3,109.2 M250.4,135.1 C249.6,133.7 245.2,128.9 245.4,127.1 C245.5,125.3 250.5,125.5 251.4,124.2 C252.3,122.9 252.0,120.0 250.9,119.1 C249.8,118.1 246.1,117.8 244.8,118.6 C243.6,119.4 243.0,122.0 243.5,123.9 C243.9,125.8 247.7,128.1 247.4,130.1 C247.1,132.2 242.6,135.3 241.6,136.3 M315.3,124.7 C314.1,125.5 310.5,128.1 308.4,129.7 C306.2,131.3 304.0,132.2 302.4,134.1 C300.8,136.1 300.2,139.0 298.8,141.4 C297.4,143.9 295.7,147.7 294.2,148.8 C292.7,149.9 290.5,149.2 289.7,148.0 C288.9,146.9 289.4,142.8 289.4,141.7 M360.0,126.8 C360.8,127.5 364.2,128.8 365.0,131.0 C365.9,133.2 366.1,138.4 364.9,139.8 C363.7,141.3 359.1,139.6 357.9,139.6 M250.0,186.6 C251.2,187.8 255.2,192.3 257.2,193.4 C259.2,194.4 260.7,194.1 261.8,192.9 C263.0,191.7 262.3,188.2 263.9,186.1 C265.5,183.9 269.0,181.0 271.6,180.2 C274.1,179.3 277.5,179.9 279.4,180.9 C281.3,182.0 282.2,185.0 283.1,186.6 C283.9,188.2 284.4,189.9 284.7,190.5 M386.2,102.9 C386.8,104.0 388.9,107.6 390.0,109.7 C391.0,111.8 392.5,114.1 392.6,115.8 C392.7,117.5 390.5,117.6 390.4,119.8 C390.4,122.1 391.1,127.4 392.3,129.3 C393.4,131.2 396.6,130.8 397.5,131.1 M387.8,75.1 C386.9,75.6 384.2,78.1 382.7,78.1 C381.1,78.0 379.9,76.2 378.3,74.8 C376.6,73.5 374.4,70.0 372.8,70.0 C371.2,70.0 370.0,73.9 368.7,75.0 C367.3,76.1 365.5,74.7 364.6,76.5 C363.7,78.3 363.4,84.2 363.1,85.7 M360.3,84.7 C359.4,85.0 355.7,84.9 355.1,86.1 C354.5,87.3 355.8,89.8 356.7,91.9 C357.7,94.0 358.8,97.7 361.0,98.8 C363.1,100.0 367.5,98.0 369.7,98.8 C372.0,99.6 372.2,103.4 374.6,103.9 C377.0,104.4 382.6,102.3 384.2,102.0 M295.8,173.4 C297.1,174.3 301.0,178.9 303.3,179.1 C305.5,179.2 306.8,175.5 309.3,174.2 C311.8,172.9 315.3,172.4 318.3,171.4 C321.2,170.4 325.6,168.6 327.1,168.1 M246.8,146.4 C247.0,144.7 248.3,138.5 247.8,136.6 C247.3,134.6 245.1,134.1 244.0,134.7 C242.8,135.3 241.3,139.3 240.7,140.2 M408.4,181.0 C409.4,180.8 412.9,181.5 414.3,179.8 C415.7,178.0 415.9,172.4 417.0,170.5 C418.1,168.7 420.2,169.0 420.8,168.7 M363.6,120.4 C363.1,121.1 360.9,123.2 361.0,124.3 C361.2,125.5 362.4,126.1 364.4,127.3 C366.4,128.4 370.3,129.8 372.8,131.3 C375.3,132.8 377.0,135.3 379.6,136.5 C382.1,137.7 386.5,138.3 387.9,138.6 M295.3,171.5 C296.3,170.9 299.8,169.3 301.7,168.1 C303.5,166.9 304.5,164.9 306.4,164.4 C308.3,164.0 311.2,164.7 313.1,165.4 C315.0,166.1 316.4,167.0 317.7,168.4 C319.0,169.9 319.6,172.4 321.1,173.9 C322.6,175.4 325.8,177.1 326.7,177.7 M390.2,82.4 C389.4,83.0 386.4,83.5 385.1,85.7 C383.9,87.8 383.8,92.8 382.9,95.1 C381.9,97.5 380.1,98.9 379.6,99.6 M373.6,113.0 C372.6,113.7 370.1,117.4 367.6,117.6 C365.1,117.8 360.8,113.3 358.6,114.0 C356.4,114.7 355.2,120.6 354.5,122.0 M256.6,160.9 C255.5,159.8 250.7,156.1 249.8,154.3 C248.9,152.4 250.7,151.1 251.0,149.7 C251.4,148.2 250.9,146.2 252.1,145.7 C253.2,145.2 256.3,145.9 257.8,146.6 C259.4,147.3 259.1,149.7 261.2,150.1 C263.3,150.6 268.8,149.4 270.4,149.3 M324.5,169.1 C323.2,169.7 318.2,171.3 316.7,172.6 C315.2,173.9 314.5,175.8 315.5,176.8 C316.5,177.8 319.8,179.0 322.6,178.8 C325.3,178.6 329.4,174.8 331.9,175.6 C334.4,176.5 335.8,182.3 337.5,183.8 C339.1,185.4 340.7,185.6 341.9,184.7 C343.1,183.7 344.0,179.2 344.5,178.2 M372.3,128.6 C372.6,130.2 373.0,135.7 374.4,137.7 C375.9,139.8 379.6,138.9 381.0,140.8 C382.4,142.7 383.1,147.1 382.7,149.2 C382.3,151.3 379.4,151.8 378.8,153.4 C378.1,155.0 378.1,157.4 378.8,159.0 C379.5,160.6 382.2,162.1 382.9,162.7 M320.4,97.3 C319.2,97.7 315.2,98.6 313.4,99.9 C311.6,101.2 311.1,105.0 309.6,105.1 C308.1,105.2 306.7,100.9 304.4,100.4 C302.1,99.9 298.7,102.3 295.7,102.0 C292.7,101.7 287.9,99.3 286.3,98.7 M255.6,132.0 C256.3,132.2 258.3,133.2 259.7,133.1 C261.1,133.0 263.2,133.1 264.0,131.1 C264.9,129.2 264.1,124.4 264.8,121.3 C265.5,118.2 267.8,115.4 268.3,112.4 C268.7,109.4 268.0,105.6 267.6,103.2 C267.3,100.8 266.5,98.7 266.3,97.8 M385.3,188.5 C385.5,189.5 385.3,193.7 386.5,194.5 C387.7,195.3 391.7,195.1 392.4,193.3 C393.1,191.5 392.4,184.8 390.7,183.4 C389.0,182.0 384.3,186.1 382.4,184.9 C380.6,183.7 379.2,178.7 379.5,176.5 C379.7,174.3 382.8,173.8 383.9,171.8 C385.0,169.8 385.8,165.6 386.2,164.4 M251.0,78.8 C250.9,79.5 250.4,81.4 250.7,83.4 C251.0,85.3 252.6,88.4 252.9,90.4 C253.1,92.3 251.1,93.3 252.1,94.8 C253.1,96.3 256.8,98.4 258.8,99.5 C260.8,100.5 261.8,101.4 264.3,101.1 C266.7,100.8 271.8,98.3 273.4,97.7 M296.0,143.0 C297.2,143.8 301.9,145.8 303.0,147.9 C304.1,150.0 302.3,153.4 302.6,155.7 C302.8,158.1 305.2,160.4 304.5,161.8 C303.8,163.3 299.4,163.1 298.4,164.3 C297.3,165.5 297.1,167.9 298.3,169.0 C299.5,170.0 304.4,170.2 305.6,170.5 M306.0,167.8 C306.7,168.9 310.2,172.7 310.3,174.3 C310.5,175.9 308.6,176.6 307.0,177.4 C305.5,178.3 302.1,179.2 301.2,179.5 M332.9,92.5 C333.4,93.0 334.4,94.4 336.3,95.2 C338.3,96.0 342.7,95.7 344.5,97.5 C346.4,99.2 345.5,103.6 347.2,105.9 C348.9,108.1 352.6,111.3 354.7,110.9 C356.9,110.4 359.3,105.7 360.1,103.1 C361.0,100.5 359.7,97.4 359.9,95.4 C360.2,93.5 361.5,92.0 361.9,91.3 M372.8,157.6 C374.0,157.2 378.6,156.9 380.2,155.5 C381.7,154.0 381.3,150.6 381.9,148.9 C382.6,147.2 382.8,145.4 383.9,145.1 C385.0,144.8 387.7,146.8 388.5,147.1 M305.0,92.9 C304.8,91.7 303.4,87.4 303.7,85.7 C303.9,83.9 305.2,82.8 306.4,82.4 C307.6,82.1 309.2,82.8 310.9,83.7 C312.7,84.6 315.9,87.2 316.9,87.9 M356.4,111.7 C356.2,112.8 355.0,115.8 355.0,117.9 C355.1,120.1 355.8,123.5 356.7,124.8 C357.6,126.1 360.3,124.5 360.6,125.7 C360.9,127.0 359.0,129.8 358.4,132.2 C357.9,134.5 358.9,138.0 357.3,139.8 C355.7,141.6 351.0,143.0 348.8,142.8 C346.6,142.6 344.8,139.3 344.0,138.6 M248.9,118.0 C248.0,119.0 243.8,122.4 243.5,123.9 C243.2,125.4 247.0,125.8 247.0,127.2 C247.1,128.5 245.0,131.0 243.7,132.0 C242.4,132.9 241.3,133.7 239.3,132.9 C237.3,132.1 233.6,129.5 231.8,127.3 C230.0,125.0 229.0,120.6 228.4,119.2 M241.0,83.0 C239.4,83.5 234.7,85.0 231.6,86.1 C228.5,87.2 224.4,89.7 222.5,89.5 C220.5,89.3 220.4,85.9 220.0,85.2 M387.4,186.7 C388.0,187.3 389.4,189.7 391.3,190.6 C393.2,191.5 397.5,190.6 398.8,192.0 C400.1,193.4 397.6,196.5 398.8,198.7 C400.1,201.0 403.9,203.4 406.1,205.3 C408.4,207.1 411.1,209.1 412.1,209.9 M354.2,103.5 C354.5,104.3 356.8,106.9 355.8,108.2 C354.8,109.5 350.1,111.5 348.3,111.4 C346.6,111.2 345.6,108.7 345.4,107.3 C345.2,105.9 346.7,103.6 347.0,102.9 M337.9,151.4 C336.9,152.2 333.7,155.8 332.2,156.1 C330.6,156.5 328.1,154.9 328.3,153.5 C328.6,152.1 332.1,150.0 333.4,147.6 C334.8,145.3 336.7,142.2 336.5,139.4 C336.2,136.5 333.1,132.9 332.1,130.4 C331.2,127.9 331.2,125.4 331.0,124.4 M382.8,128.1 C383.9,128.6 386.6,130.8 389.3,131.0 C392.0,131.1 396.4,127.7 398.8,128.7 C401.2,129.7 402.9,135.6 403.8,136.9 M408.0,163.0 C406.8,162.5 403.1,160.9 400.8,160.3 C398.4,159.7 395.0,160.3 393.8,159.4 C392.5,158.4 394.5,156.1 393.3,154.6 C392.1,153.1 387.6,151.2 386.5,150.5 M240.3,75.3 C239.5,76.2 236.7,78.9 235.4,80.6 C234.2,82.4 232.6,84.3 233.0,85.9 C233.3,87.5 236.7,89.5 237.4,90.2 M395.1,94.0 C395.8,94.8 398.4,98.5 399.8,98.8 C401.2,99.1 402.0,96.4 403.5,95.7 C405.1,95.1 407.2,93.8 409.1,95.0 C411.0,96.2 414.0,101.6 414.9,102.9 M246.8,173.5 C247.9,173.3 251.9,171.1 253.3,172.3 C254.8,173.4 253.8,178.4 255.5,180.4 C257.3,182.4 262.1,184.9 264.0,184.5 C266.0,184.1 266.6,180.0 267.3,178.1 C268.0,176.1 269.4,173.9 268.1,172.7 C266.8,171.5 261.2,169.9 259.6,170.8 C258.1,171.7 258.8,176.9 258.7,178.1 M416.7,92.1 C416.4,93.4 415.4,97.3 415.3,99.8 C415.3,102.4 416.0,105.5 416.3,107.5 C416.5,109.5 417.2,109.5 416.7,111.8 C416.2,114.1 414.9,119.2 413.4,121.2 C411.8,123.3 409.3,123.5 407.3,124.4 C405.3,125.2 403.7,125.3 401.4,126.4 C399.0,127.6 394.7,130.6 393.3,131.5 M251.5,153.7 C252.7,154.0 256.9,156.8 259.0,155.9 C261.1,155.0 261.8,148.7 264.1,148.1 C266.4,147.5 271.3,151.6 272.8,152.3 M286.6,81.3 C286.4,79.7 284.9,73.5 285.7,71.8 C286.5,70.2 290.3,70.0 291.5,71.5 C292.7,73.0 291.6,79.2 293.0,80.8 C294.5,82.3 298.2,82.1 300.1,80.7 C301.9,79.3 302.6,73.6 304.1,72.2 C305.7,70.8 308.5,72.3 309.3,72.4 M266.6,184.8 C267.3,185.3 270.8,186.3 271.0,188.0 C271.2,189.7 269.4,193.2 267.7,195.0 C266.0,196.8 262.2,199.1 260.6,198.7 C258.9,198.3 257.4,194.5 257.8,192.5 C258.3,190.4 261.4,187.0 263.3,186.4 C265.2,185.8 268.4,188.4 269.4,188.8 M375.1,143.4 C375.1,144.7 375.3,148.9 375.2,151.0 C375.0,153.0 373.5,154.9 374.1,155.9 C374.7,156.8 377.2,156.2 378.7,156.8 C380.1,157.4 382.1,159.2 382.8,159.6 M423.7,159.1 C424.5,160.1 427.9,162.6 428.8,164.9 C429.8,167.3 427.9,171.9 429.3,173.4 C430.6,174.8 434.2,174.2 436.8,173.7 C439.4,173.1 443.6,170.6 444.9,170.0 M393.4,182.0 C393.9,181.3 396.4,179.0 396.5,177.8 C396.6,176.5 393.6,176.3 393.9,174.5 C394.2,172.6 396.3,168.9 398.3,166.8 C400.2,164.6 403.5,162.7 405.6,161.7 C407.8,160.7 410.3,161.7 411.3,160.8 C412.3,159.9 411.5,157.0 411.5,156.2 M381.4,99.6 C381.8,100.5 383.9,104.0 383.7,105.3 C383.4,106.6 382.0,107.6 379.9,107.3 C377.8,107.0 372.9,105.5 371.2,103.6 C369.4,101.8 369.8,98.4 369.2,96.3 C368.6,94.1 366.9,93.1 367.3,90.9 C367.7,88.7 370.7,84.5 371.4,83.2 M242.0,137.2 C242.3,138.4 242.1,142.5 243.8,144.2 C245.6,145.9 250.3,148.1 252.5,147.4 C254.6,146.6 256.6,141.5 257.0,139.7 C257.3,137.8 256.5,136.8 254.7,136.3 C252.9,135.8 247.6,137.3 246.2,136.6 C244.7,136.0 246.2,133.3 246.2,132.6 M330.2,134.0 C331.4,134.4 336.6,134.8 337.4,136.3 C338.3,137.8 336.2,141.2 335.4,143.1 C334.6,144.9 334.8,146.7 332.8,147.3 C330.7,147.9 324.8,146.8 323.2,146.7 M280.5,94.9 C282.0,94.2 287.3,91.7 289.5,90.8 C291.8,90.0 292.8,90.6 294.1,89.9 C295.3,89.1 296.7,87.1 297.2,86.6 M414.3,182.0 C414.9,181.8 417.3,181.9 418.3,180.9 C419.2,179.8 418.4,176.3 419.9,175.5 C421.3,174.7 424.2,176.5 426.8,176.1 C429.5,175.7 433.8,174.7 435.6,173.1 C437.5,171.5 436.9,169.1 437.9,166.7 C438.9,164.4 440.9,160.3 441.5,159.0 M380.6,152.6 C379.6,153.7 376.3,157.4 374.7,159.6 C373.1,161.9 371.6,163.8 371.0,166.0 C370.5,168.2 372.0,170.8 371.6,172.8 C371.2,174.7 368.8,175.7 368.6,177.4 C368.5,179.2 370.3,182.1 370.7,183.1" fill="none" stroke="#7c7299" stroke-width="1.1" stroke-linejoin="round" clip-path="url(#brClip)"/>
</g>
</defs>
<text x="-3.5" y="57" font-size="77" font-weight="bold" fill="#111" textLength="99" lengthAdjust="spacingAndGlyphs">(a)</text>
<text x="-3.5" y="1084" font-size="77" font-weight="bold" fill="#111" textLength="101" lengthAdjust="spacingAndGlyphs">(b)</text>
<text x="1111" y="1983" font-size="77" font-weight="bold" fill="#111" textLength="97.3" lengthAdjust="spacingAndGlyphs">(c)</text>
<text x="2189.5" y="57" font-size="77" font-weight="bold" fill="#111" textLength="103" lengthAdjust="spacingAndGlyphs">(d)</text>
<text x="2195.3" y="1084" font-size="77" font-weight="bold" fill="#111" textLength="97.5" lengthAdjust="spacingAndGlyphs">(e)</text>
<text x="2182" y="1983" font-size="77" font-weight="bold" fill="#111" textLength="82.5" lengthAdjust="spacingAndGlyphs">(f)</text>
<line x1="120" y1="32" x2="2157" y2="32" stroke="#3a5193" stroke-width="8" stroke-dasharray="8 8" stroke-dashoffset="-3"/>
<line x1="120" y1="1022" x2="2157" y2="1022" stroke="#3a5193" stroke-width="8" stroke-dasharray="8 8" stroke-dashoffset="-6"/>
<line x1="120" y1="32" x2="120" y2="1026" stroke="#3a5193" stroke-width="8" stroke-dasharray="8 8" stroke-dashoffset="-6"/>
<line x1="2153" y1="32" x2="2153" y2="1026" stroke="#3a5193" stroke-width="8" stroke-dasharray="8 8" stroke-dashoffset="-3"/>
<polygon points="447.0,174.5 904.6,301.7 904.6,328.6 882.5,384.8 444.7,188.0" fill="url(#gBeam)" stroke="none" stroke-width="0" />
<polygon points="444.0,646.6 904.6,423.5 904.6,508.0 444.0,656.9" fill="url(#pBeam)" stroke="none" stroke-width="0" />
<rect x="924" y="230" width="296" height="307" fill="#111"/>
<g transform="translate(915,220) scale(0.17950)" fill="#fff">
<polygon points="924.0,367.0 1237.0,367.0 1237.0,730.0 1182.0,730.0 1182.0,772.0 1087.0,772.0 1087.0,830.0 975.0,830.0 975.0,885.0 1137.0,885.0 1137.0,935.0 1182.0,935.0 1182.0,992.0 1237.0,992.0 1237.0,1042.0 1287.0,1042.0 1287.0,1247.0 1237.0,1247.0 1237.0,1302.0 1182.0,1302.0 1182.0,1357.0 1137.0,1357.0 1137.0,1400.0 1030.0,1400.0 1030.0,1455.0 663.0,1455.0 663.0,1510.0 612.0,1510.0 612.0,1560.0 406.0,1560.0 406.0,1455.0 350.0,1455.0 350.0,1302.0 825.0,1302.0 825.0,1247.0 924.0,1247.0 924.0,1197.0 975.0,1197.0 975.0,1142.0 924.0,1142.0 924.0,1042.0 718.0,1042.0 718.0,992.0 663.0,992.0 663.0,1042.0 612.0,1042.0 612.0,992.0 567.0,992.0 567.0,885.0 612.0,885.0 612.0,830.0 663.0,830.0 663.0,772.0 718.0,772.0 718.0,680.0 663.0,680.0 663.0,730.0 612.0,730.0 612.0,680.0 567.0,680.0 567.0,625.0 462.0,625.0 462.0,517.0 512.0,517.0 512.0,462.0 612.0,462.0 612.0,417.0 924.0,417.0" fill="#fff" stroke="none" stroke-width="0" />
<rect x="825" y="1087" width="55" height="55"/>
<rect x="718" y="1510" width="107" height="50"/>
</g>
<line x1="1239.5" y1="377.0" x2="1626.5" y2="109.0" stroke="#111" stroke-width="2.7" />
<line x1="1239.5" y1="377.0" x2="1626.5" y2="206.5" stroke="#111" stroke-width="2.7" />
<line x1="1239.5" y1="377.0" x2="1626.5" y2="307.5" stroke="#111" stroke-width="2.7" />
<line x1="1239.5" y1="377.0" x2="1626.5" y2="411.5" stroke="#111" stroke-width="2.7" />
<line x1="1252.0" y1="387.0" x2="1626.5" y2="508.5" stroke="#111" stroke-width="2.7" />
<line x1="1247.0" y1="400.0" x2="1626.5" y2="686.5" stroke="#111" stroke-width="2.7" />
<line x1="1699.5" y1="109.0" x2="1877.0" y2="193.0" stroke="#111" stroke-width="2.7" />
<line x1="1699.5" y1="109.0" x2="1877.0" y2="269.0" stroke="#111" stroke-width="2.7" />
<line x1="1699.5" y1="109.0" x2="1877.0" y2="344.0" stroke="#111" stroke-width="2.7" />
<line x1="1699.5" y1="109.0" x2="1877.0" y2="423.0" stroke="#111" stroke-width="2.7" />
<line x1="1699.5" y1="109.0" x2="1877.0" y2="496.0" stroke="#111" stroke-width="2.7" />
<circle cx="1663.5" cy="109" r="37.5" fill="#111"/>
<circle cx="1663.5" cy="206.5" r="37.5" fill="#111"/>
<circle cx="1663.5" cy="307.5" r="37.5" fill="#111"/>
<circle cx="1663.5" cy="411.5" r="37.5" fill="#111"/>
<circle cx="1663.5" cy="508.5" r="37.5" fill="#111"/>
<circle cx="1663.5" cy="686.5" r="37.5" fill="#111"/>
<circle cx="1907" cy="200" r="28" fill="#e46c32"/>
<circle cx="1907" cy="272" r="28" fill="#e46c32"/>
<circle cx="1907" cy="346" r="28" fill="#e46c32"/>
<circle cx="1907" cy="424" r="28" fill="#e46c32"/>
<circle cx="1907" cy="496" r="28" fill="#e46c32"/>
<circle cx="1907" cy="629" r="28" fill="#e46c32"/>
<rect x="1659.5" y="566" width="8" height="10" fill="#111"/>
<rect x="1903" y="541" width="8" height="9" fill="#111"/>
<rect x="1659.5" y="586" width="8" height="10" fill="#111"/>
<rect x="1903" y="558" width="8" height="9" fill="#111"/>
<rect x="1659.5" y="606" width="8" height="10" fill="#111"/>
<rect x="1903" y="575" width="8" height="9" fill="#111"/>
<line x1="480.0" y1="1220.0" x2="480.0" y2="2165.0" stroke="#111" stroke-width="7.4" />
<line x1="730.6" y1="1220.0" x2="730.6" y2="2165.0" stroke="#111" stroke-width="7.4" />
<line x1="296.0" y1="1416.0" x2="985.0" y2="1416.0" stroke="#111" stroke-width="7.4" />
<line x1="296.0" y1="1661.0" x2="985.0" y2="1661.0" stroke="#111" stroke-width="7.4" />
<line x1="296.0" y1="1922.3" x2="985.0" y2="1922.3" stroke="#111" stroke-width="7.4" />
<polygon points="227.0,1378.4 300.0,1415.0 227.0,1451.7" fill="#111" stroke="none" stroke-width="0" />
<polygon points="227.0,1625.3 300.0,1660.5 227.0,1696.6" fill="#111" stroke="none" stroke-width="0" />
<polygon points="227.0,1887.0 300.0,1922.3 227.0,1958.0" fill="#111" stroke="none" stroke-width="0" />
<rect x="239.2" y="1494.8" width="15.1" height="13.2" fill="#111"/>
<rect x="239.2" y="1521" width="15.1" height="12.3" fill="#111"/>
<rect x="239.2" y="1546.5" width="15.1" height="12.2" fill="#111"/>
<g transform="translate(559.8,1333.8)">
<line x1="-77.0" y1="-70.0" x2="90.0" y2="85.0" stroke="#111" stroke-width="6.2" />
<polygon points="-16.3,-58.4 58.3,16.6 16.3,58.6 -58.3,-16.8" fill="#111" stroke="none" stroke-width="0" />
<polygon points="-16.3,-48.5 48.4,16.6 16.3,48.7 -48.4,-16.8" fill="#fff" stroke="none" stroke-width="0" />
<polygon points="-16.3,-58.4 5.6,-36.5 -36.4,5.1 -58.3,-16.8" fill="#111" stroke="none" stroke-width="0" />
<polygon points="-9.5,-20.5 9.1,-19.2 8.6,-16.8 -1.5,-2.7 22.8,-6.4 21.4,-2.9 13.9,13.7 35.6,6.6 34.2,9.9 28.5,31.1 36.5,29.8 39.1,32.5 23.2,46.2 17.9,41.3 25.0,19.2 -3.3,27.6 8.2,4.6 -20.3,8.6 -5.1,-12.2 -16.5,-14.1" fill="#111" stroke="none" stroke-width="0" />
</g>
<g transform="translate(811.6,1333.8)">
<line x1="-77.0" y1="-70.0" x2="90.0" y2="85.0" stroke="#111" stroke-width="6.2" />
<polygon points="-16.3,-58.4 58.3,16.6 16.3,58.6 -58.3,-16.8" fill="#111" stroke="none" stroke-width="0" />
<polygon points="-16.3,-48.5 48.4,16.6 16.3,48.7 -48.4,-16.8" fill="#fff" stroke="none" stroke-width="0" />
<polygon points="-16.3,-58.4 5.6,-36.5 -36.4,5.1 -58.3,-16.8" fill="#111" stroke="none" stroke-width="0" />
<polygon points="-9.5,-20.5 9.1,-19.2 8.6,-16.8 -1.5,-2.7 22.8,-6.4 21.4,-2.9 13.9,13.7 35.6,6.6 34.2,9.9 28.5,31.1 36.5,29.8 39.1,32.5 23.2,46.2 17.9,41.3 25.0,19.2 -3.3,27.6 8.2,4.6 -20.3,8.6 -5.1,-12.2 -16.5,-14.1" fill="#111" stroke="none" stroke-width="0" />
</g>
<g transform="translate(559.8,1570.8)">
<line x1="-77.0" y1="-70.0" x2="90.0" y2="85.0" stroke="#111" stroke-width="6.2" />
<polygon points="-16.3,-58.4 58.3,16.6 16.3,58.6 -58.3,-16.8" fill="#111" stroke="none" stroke-width="0" />
<polygon points="-16.3,-48.5 48.4,16.6 16.3,48.7 -48.4,-16.8" fill="#fff" stroke="none" stroke-width="0" />
<polygon points="-16.3,-58.4 5.6,-36.5 -36.4,5.1 -58.3,-16.8" fill="#111" stroke="none" stroke-width="0" />
<polygon points="-9.5,-20.5 9.1,-19.2 8.6,-16.8 -1.5,-2.7 22.8,-6.4 21.4,-2.9 13.9,13.7 35.6,6.6 34.2,9.9 28.5,31.1 36.5,29.8 39.1,32.5 23.2,46.2 17.9,41.3 25.0,19.2 -3.3,27.6 8.2,4.6 -20.3,8.6 -5.1,-12.2 -16.5,-14.1" fill="#111" stroke="none" stroke-width="0" />
</g>
<g transform="translate(811.6,1570.8)">
<line x1="-77.0" y1="-70.0" x2="90.0" y2="85.0" stroke="#111" stroke-width="6.2" />
<polygon points="-16.3,-58.4 58.3,16.6 16.3,58.6 -58.3,-16.8" fill="#111" stroke="none" stroke-width="0" />
<polygon points="-16.3,-48.5 48.4,16.6 16.3,48.7 -48.4,-16.8" fill="#fff" stroke="none" stroke-width="0" />
<polygon points="-16.3,-58.4 5.6,-36.5 -36.4,5.1 -58.3,-16.8" fill="#111" stroke="none" stroke-width="0" />
<polygon points="-9.5,-20.5 9.1,-19.2 8.6,-16.8 -1.5,-2.7 22.8,-6.4 21.4,-2.9 13.9,13.7 35.6,6.6 34.2,9.9 28.5,31.1 36.5,29.8 39.1,32.5 23.2,46.2 17.9,41.3 25.0,19.2 -3.3,27.6 8.2,4.6 -20.3,8.6 -5.1,-12.2 -16.5,-14.1" fill="#111" stroke="none" stroke-width="0" />
</g>
<g transform="translate(559.8,1842.5)">
<line x1="-77.0" y1="-70.0" x2="90.0" y2="85.0" stroke="#111" stroke-width="6.2" />
<polygon points="-16.3,-58.4 58.3,16.6 16.3,58.6 -58.3,-16.8" fill="#111" stroke="none" stroke-width="0" />
<polygon points="-16.3,-48.5 48.4,16.6 16.3,48.7 -48.4,-16.8" fill="#fff" stroke="none" stroke-width="0" />
<polygon points="-16.3,-58.4 5.6,-36.5 -36.4,5.1 -58.3,-16.8" fill="#111" stroke="none" stroke-width="0" />
<polygon points="-9.5,-20.5 9.1,-19.2 8.6,-16.8 -1.5,-2.7 22.8,-6.4 21.4,-2.9 13.9,13.7 35.6,6.6 34.2,9.9 28.5,31.1 36.5,29.8 39.1,32.5 23.2,46.2 17.9,41.3 25.0,19.2 -3.3,27.6 8.2,4.6 -20.3,8.6 -5.1,-12.2 -16.5,-14.1" fill="#111" stroke="none" stroke-width="0" />
</g>
<g transform="translate(811.6,1842.5)">
<line x1="-77.0" y1="-70.0" x2="90.0" y2="85.0" stroke="#111" stroke-width="6.2" />
<polygon points="-16.3,-58.4 58.3,16.6 16.3,58.6 -58.3,-16.8" fill="#111" stroke="none" stroke-width="0" />
<polygon points="-16.3,-48.5 48.4,16.6 16.3,48.7 -48.4,-16.8" fill="#fff" stroke="none" stroke-width="0" />
<polygon points="-16.3,-58.4 5.6,-36.5 -36.4,5.1 -58.3,-16.8" fill="#111" stroke="none" stroke-width="0" />
<polygon points="-9.5,-20.5 9.1,-19.2 8.6,-16.8 -1.5,-2.7 22.8,-6.4 21.4,-2.9 13.9,13.7 35.6,6.6 34.2,9.9 28.5,31.1 36.5,29.8 39.1,32.5 23.2,46.2 17.9,41.3 25.0,19.2 -3.3,27.6 8.2,4.6 -20.3,8.6 -5.1,-12.2 -16.5,-14.1" fill="#111" stroke="none" stroke-width="0" />
</g>
<polyline points="480.0,2136.5 367.0,2136.5 367.0,2184.2 386.0,2204.5 344.5,2206.3 387.2,2228.4 343.5,2234.3 387.5,2250.0 349.0,2265.0 367.0,2273.4 367.0,2320.0 507.0,2320.0 507.0,2240.0" fill="none" stroke="#111" stroke-width="7.4" stroke-linejoin="miter" stroke-miterlimit="3"/>
<polyline points="730.6,2136.5 623.0,2136.5 623.0,2184.2 642.0,2204.5 600.5,2206.3 643.2,2228.4 599.5,2234.3 643.5,2250.0 605.0,2265.0 623.0,2273.4 623.0,2320.0 763.8,2320.0 763.8,2240.0" fill="none" stroke="#111" stroke-width="7.4" stroke-linejoin="miter" stroke-miterlimit="3"/>
<polygon points="458.0,2164.9 561.7,2164.9 508.6,2239.0" fill="#fff" stroke="#111" stroke-width="7.4" stroke-linejoin="miter"/>
<polygon points="713.9,2164.9 819.2,2164.9 765.0,2238.0" fill="#fff" stroke="#111" stroke-width="7.4" stroke-linejoin="miter"/>
<polyline points="437.0,2320.0 437.0,2381.0 532.6,2381.0 532.6,2418.0" fill="none" stroke="#111" stroke-width="7.4" stroke-linejoin="miter"/>
<polyline points="700.6,2320.0 700.6,2381.0 605.0,2381.0 605.0,2418.0" fill="none" stroke="#111" stroke-width="7.4" stroke-linejoin="miter"/>
<polygon points="517.3,2419.7 622.4,2419.7 569.9,2493.0" fill="#fff" stroke="#111" stroke-width="7.4" stroke-linejoin="miter"/>
<line x1="570.0" y1="2493.0" x2="570.0" y2="2576.3" stroke="#111" stroke-width="7.4" />
<text x="409.0" y="411.9" font-size="53" font-weight="bold" fill="#111" textLength="115.0" lengthAdjust="spacingAndGlyphs"  filter="url(#tsh)">ACC</text>
<text x="525.0" y="422.9" font-size="34.5" font-weight="bold" fill="#111" textLength="38.0" lengthAdjust="spacingAndGlyphs"  filter="url(#tsh)">20</text>
<text x="566.0" y="411.9" font-size="53" font-weight="bold" fill="#111" textLength="162.0" lengthAdjust="spacingAndGlyphs"  filter="url(#tsh)">:85.9%</text>
<text x="188.0" y="508.0" font-size="60" font-weight="bold" fill="#111" textLength="250.0" lengthAdjust="spacingAndGlyphs"  filter="url(#tsh)">Learning</text>
<text x="423.0" y="889.2" font-size="53" font-weight="bold" fill="#e8202c" textLength="115.0" lengthAdjust="spacingAndGlyphs"  filter="url(#tsh)">ACC</text>
<text x="539.0" y="899.9" font-size="34.5" font-weight="bold" fill="#e8202c" textLength="38.0" lengthAdjust="spacingAndGlyphs"  filter="url(#tsh)">20</text>
<text x="580.0" y="889.2" font-size="53" font-weight="bold" fill="#e8202c" textLength="119.0" lengthAdjust="spacingAndGlyphs"  filter="url(#tsh)">:89%</text>
<text x="161.0" y="974.9" font-size="60" font-weight="bold" fill="#e8202c" textLength="306.0" lengthAdjust="spacingAndGlyphs"  filter="url(#tsh)">Relearning</text>
<text x="1062.5" y="638.2" font-size="59" font-weight="bold" fill="#111"  text-anchor="middle" filter="url(#tsh)">INPUT</text>
<text x="1060.0" y="709.5" font-size="59" font-weight="bold" fill="#111"  text-anchor="middle" filter="url(#tsh)">(1*28*28)</text>
<text x="1925.6" y="806.8" font-size="60" font-weight="bold" fill="#111"  text-anchor="middle" filter="url(#tsh)">OUTPUT</text>
<text x="1924.0" y="878.8" font-size="59" font-weight="bold" fill="#111"  text-anchor="middle" filter="url(#tsh)">(10*1)</text>
<text x="102.0" y="1431.0" font-size="66" font-weight="bold" fill="#111"   >V</text>
<text x="149.0" y="1444.0" font-size="44" font-weight="bold" fill="#111" textLength="19.0" lengthAdjust="spacingAndGlyphs"  >1</text>
<text x="102.0" y="1689.0" font-size="66" font-weight="bold" fill="#111"   >V</text>
<text x="149.0" y="1702.0" font-size="44" font-weight="bold" fill="#111" textLength="58.0" lengthAdjust="spacingAndGlyphs"  >n-1</text>
<text x="102.0" y="1954.0" font-size="66" font-weight="bold" fill="#111"   >V</text>
<text x="149.0" y="1967.0" font-size="44" font-weight="bold" fill="#111" textLength="25.0" lengthAdjust="spacingAndGlyphs"  >n</text>
<text x="526.5" y="1248.3" font-size="67.5" font-weight="bold" fill="#111"   >G</text>
<text x="580.0" y="1262.0" font-size="45" font-weight="bold" fill="#111" textLength="59.0" lengthAdjust="spacingAndGlyphs"  >0,0</text>
<text x="770.5" y="1248.3" font-size="67.5" font-weight="bold" fill="#111"   >G</text>
<text x="824.0" y="1262.0" font-size="45" font-weight="bold" fill="#111" textLength="59.0" lengthAdjust="spacingAndGlyphs"  >0,1</text>
<text x="502.5" y="1754.3" font-size="67.5" font-weight="bold" fill="#111"   >G</text>
<text x="556.0" y="1767.6" font-size="45" font-weight="bold" fill="#111" textLength="62.0" lengthAdjust="spacingAndGlyphs"  >n,0</text>
<text x="747.5" y="1754.3" font-size="67.5" font-weight="bold" fill="#111"   >G</text>
<text x="801.0" y="1767.6" font-size="45" font-weight="bold" fill="#111" textLength="62.0" lengthAdjust="spacingAndGlyphs"  >n,1</text>
<text x="621.0" y="1531.7" font-size="66" font-weight="bold" fill="#4a77b9"   >W</text>
<text x="684.0" y="1543.6" font-size="44" font-weight="bold" fill="#4a77b9"   >1</text>
<text x="841.0" y="1531.7" font-size="66" font-weight="bold" fill="#4a77b9"   >W</text>
<text x="904.0" y="1543.6" font-size="44" font-weight="bold" fill="#4a77b9"   >2</text>
<text x="226.0" y="2635.2" font-size="66" font-weight="bold" fill="#111"   >V</text>
<text x="272.0" y="2648.2" font-size="46" font-weight="bold" fill="#111" textLength="68.0" lengthAdjust="spacingAndGlyphs"  >out</text>
<text x="350.0" y="2635.2" font-size="66" font-weight="bold" fill="#111" textLength="40.0" lengthAdjust="spacingAndGlyphs"  >=</text>
<text x="408.5" y="2635.2" font-size="66" font-weight="bold" fill="#111" textLength="72.0" lengthAdjust="spacingAndGlyphs"  >R*</text>
<text x="482.5" y="2635.5" font-size="72" font-weight="bold" fill="#111" textLength="50" lengthAdjust="spacingAndGlyphs">&#8721;</text>
<text x="548.0" y="2635.2" font-size="66" font-weight="bold" fill="#111"   >V</text>
<text x="596.0" y="2648.2" font-size="46" font-weight="bold" fill="#111" textLength="40.0" lengthAdjust="spacingAndGlyphs"  >in</text>
<text x="638.0" y="2635.2" font-size="66" font-weight="bold" fill="#111"   >*</text>
<text x="675.0" y="2635.2" font-size="66" font-weight="bold" fill="#111" textLength="81.0" lengthAdjust="spacingAndGlyphs"  >(w</text>
<text x="756.0" y="2649.3" font-size="44" font-weight="bold" fill="#111" textLength="20.0" lengthAdjust="spacingAndGlyphs"  >1</text>
<text x="781.0" y="2635.2" font-size="66" font-weight="bold" fill="#111" textLength="82.0" lengthAdjust="spacingAndGlyphs"  >-w</text>
<text x="864.0" y="2649.3" font-size="44" font-weight="bold" fill="#111"   >2</text>
<text x="891.0" y="2635.2" font-size="66" font-weight="bold" fill="#111"   >)</text>
<rect x="429.4" y="1446.3" width="560.3" height="255.3" fill="none" stroke="#3d5a96" stroke-width="2.3" stroke-dasharray="9.3 5.5"/>
<rect x="434.6" y="1451.7" width="549.7" height="244.7" fill="none" stroke="#3d5a96" stroke-width="2.3" stroke-dasharray="9.3 5.5"/>
<rect x="1146.8" y="1177.3" width="1005.3" height="666.3" fill="none" stroke="#3d5a96" stroke-width="2.3" stroke-dasharray="9.3 5.5"/>
<rect x="1152.2" y="1182.7" width="994.7" height="655.7" fill="none" stroke="#3d5a96" stroke-width="2.3" stroke-dasharray="9.3 5.5"/>
<line x1="984.7" y1="1447.7" x2="1143.7" y2="1176.7" stroke="#3d5a96" stroke-width="2.3" stroke-dasharray="9.3 5.5"/>
<line x1="989.3" y1="1450.3" x2="1148.3" y2="1179.3" stroke="#3d5a96" stroke-width="2.3" stroke-dasharray="9.3 5.5"/>
<line x1="988.8" y1="1697.0" x2="1147.8" y2="1841.0" stroke="#3d5a96" stroke-width="2.3" stroke-dasharray="9.3 5.5"/>
<line x1="985.2" y1="1701.0" x2="1144.2" y2="1845.0" stroke="#3d5a96" stroke-width="2.3" stroke-dasharray="9.3 5.5"/>
<text x="1365.5" y="1291.0" font-size="65.5" font-weight="bold" fill="#111"   >W</text>
<text x="1434.0" y="1305.0" font-size="42" font-weight="bold" fill="#111" textLength="18.0" lengthAdjust="spacingAndGlyphs"  >1</text>
<text x="1825.5" y="1291.0" font-size="65.5" font-weight="bold" fill="#111"   >W</text>
<text x="1892.0" y="1305.0" font-size="42" font-weight="bold" fill="#111"   >2</text>
<rect x="1218" y="1383" width="347" height="36.8" fill="#e26634"/>
<rect x="1218" y="1423" width="347" height="29.0" fill="#abe0b6"/>
<rect x="1218" y="1452" width="347" height="8.0" fill="#d1b5d4"/>
<rect x="1218" y="1460" width="347" height="28.9" fill="#ebb9e0"/>
<rect x="1218" y="1488.9" width="347" height="37.9" fill="#949599"/>
<rect x="1701.2" y="1382.1" width="346.70000000000005" height="30.1" fill="#e26634"/>
<rect x="1701.2" y="1412.2" width="346.70000000000005" height="5.4" fill="#9bb06c"/>
<rect x="1701.2" y="1417.6" width="346.70000000000005" height="23.4" fill="#abe0b6"/>
<rect x="1701.2" y="1441" width="346.70000000000005" height="8.7" fill="#d1b5d4"/>
<rect x="1701.2" y="1449.7" width="346.70000000000005" height="29.3" fill="#ebb9e0"/>
<rect x="1701.2" y="1479" width="346.70000000000005" height="36.7" fill="#949599"/>
<rect x="1238.9" y="1608.4" width="127.5" height="56" fill="#e39c48"/>
<rect x="1559.1" y="1608.4" width="127.5" height="56" fill="#b7e4c2"/>
<rect x="1238.9" y="1703.1" width="127.5" height="56" fill="#dcaedb"/>
<rect x="1559.1" y="1703.1" width="127.5" height="56" fill="#bde6ea"/>
<text x="1394.0" y="1653.8" font-size="55" font-weight="bold" fill="#111" textLength="73.0" lengthAdjust="spacingAndGlyphs"  >Au</text>
<text x="1720.0" y="1653.8" font-size="55" font-weight="bold" fill="#111" textLength="135.0" lengthAdjust="spacingAndGlyphs"  >IGZO</text>
<text x="1391.5" y="1752.4" font-size="55" font-weight="bold" fill="#111" textLength="149.5" lengthAdjust="spacingAndGlyphs"  >BLTO</text>
<text x="1720.0" y="1752.4" font-size="55" font-weight="bold" fill="#111" textLength="91.0" lengthAdjust="spacingAndGlyphs"  >ITO</text>
<rect x="1250.8" y="2043" width="757" height="611" fill="none" stroke="#111" stroke-width="2.8"/>
<text x="1266.0" y="2088.1" font-size="32" font-weight="bold" fill="#111" textLength="79.0" lengthAdjust="spacingAndGlyphs"  >W=W</text>
<text x="1345.0" y="2096.5" font-size="21" font-weight="bold" fill="#111"   >1</text>
<text x="1357.0" y="2088.1" font-size="32" font-weight="bold" fill="#111" textLength="40.0" lengthAdjust="spacingAndGlyphs"  >-W</text>
<text x="1397.0" y="2096.5" font-size="21" font-weight="bold" fill="#111"   >2</text>
<path d="M1311.0,2461.0 C1321.2,2445.2 1353.5,2394.2 1372.0,2366.0 C1390.5,2337.8 1405.3,2313.0 1422.0,2292.0 C1438.7,2271.0 1447.0,2258.7 1472.0,2240.0 C1497.0,2221.3 1538.7,2195.3 1572.0,2180.0 C1605.3,2164.7 1638.7,2156.2 1672.0,2148.0 C1705.3,2139.8 1731.2,2136.5 1772.0,2131.0 C1812.8,2125.5 1892.8,2117.7 1917.0,2115.0" fill="none" stroke="#111" stroke-width="2.6"/>
<path d="M1344.5,2571.0 C1361.6,2553.3 1413.2,2495.8 1447.0,2465.0 C1480.8,2434.2 1513.7,2409.7 1547.0,2386.0 C1580.3,2362.3 1613.7,2338.3 1647.0,2323.0 C1680.3,2307.7 1713.7,2301.8 1747.0,2294.0 C1780.3,2286.2 1816.3,2280.8 1847.0,2276.0 C1877.7,2271.2 1917.0,2266.8 1931.0,2265.0" fill="none" stroke="#e3202f" stroke-width="2.6"/>
<text x="1899.0" y="2155.2" font-size="29" font-weight="bold" fill="#111"   >G</text>
<text x="1923.0" y="2162.7" font-size="21" font-weight="bold" fill="#111" textLength="53.0" lengthAdjust="spacingAndGlyphs"  >max1</text>
<text x="1606.0" y="2223.7" font-size="31" font-weight="bold" fill="#111"   >W</text>
<text x="1636.0" y="2231.5" font-size="21" font-weight="bold" fill="#111"   >1</text>
<text x="1899.0" y="2304.9" font-size="29" font-weight="bold" fill="#e3202f"   >G</text>
<text x="1923.0" y="2312.8" font-size="21" font-weight="bold" fill="#e3202f" textLength="55.0" lengthAdjust="spacingAndGlyphs"  >max2</text>
<text x="1616.0" y="2402.8" font-size="31" font-weight="bold" fill="#e3202f"   >W</text>
<text x="1645.0" y="2410.6" font-size="21" font-weight="bold" fill="#e3202f"   >2</text>
<text x="1281.0" y="2485.0" font-size="29" font-weight="bold" fill="#111"   >G</text>
<text x="1304.0" y="2492.5" font-size="21" font-weight="bold" fill="#111" textLength="46.0" lengthAdjust="spacingAndGlyphs"  >min1</text>
<text x="1338.5" y="2605.0" font-size="29" font-weight="bold" fill="#e3202f"   >G</text>
<text x="1361.5" y="2612.5" font-size="21" font-weight="bold" fill="#e3202f" textLength="48.0" lengthAdjust="spacingAndGlyphs"  >min2</text>
<text transform="translate(1212,2510) rotate(-90)" x="0" y="0" font-size="55" font-weight="bold" fill="#111" textLength="325" lengthAdjust="spacingAndGlyphs">Conductance</text>
<text x="1421.0" y="2700.0" font-size="50" font-weight="bold" fill="#111" textLength="417.0" lengthAdjust="spacingAndGlyphs"  >Pulse number (#)</text>
<rect x="2390.4" y="143" width="756.5999999999999" height="610" fill="none" stroke="#1a1a1a" stroke-width="3"/>
<line x1="2380.4" y1="692.5" x2="2390.4" y2="692.5" stroke="#1a1a1a" stroke-width="2.8" />
<line x1="2380.4" y1="570.2" x2="2390.4" y2="570.2" stroke="#1a1a1a" stroke-width="2.8" />
<line x1="2380.4" y1="448.0" x2="2390.4" y2="448.0" stroke="#1a1a1a" stroke-width="2.8" />
<line x1="2380.4" y1="325.8" x2="2390.4" y2="325.8" stroke="#1a1a1a" stroke-width="2.8" />
<line x1="2380.4" y1="203.5" x2="2390.4" y2="203.5" stroke="#1a1a1a" stroke-width="2.8" />
<line x1="2384.9" y1="631.4" x2="2390.4" y2="631.4" stroke="#1a1a1a" stroke-width="2.8" />
<line x1="2384.9" y1="509.1" x2="2390.4" y2="509.1" stroke="#1a1a1a" stroke-width="2.8" />
<line x1="2384.9" y1="386.9" x2="2390.4" y2="386.9" stroke="#1a1a1a" stroke-width="2.8" />
<line x1="2384.9" y1="264.6" x2="2390.4" y2="264.6" stroke="#1a1a1a" stroke-width="2.8" />
<line x1="2384.9" y1="142.4" x2="2390.4" y2="142.4" stroke="#1a1a1a" stroke-width="2.8" />
<line x1="2454.0" y1="753.0" x2="2454.0" y2="763.0" stroke="#1a1a1a" stroke-width="2.8" />
<line x1="2580.3" y1="753.0" x2="2580.3" y2="763.0" stroke="#1a1a1a" stroke-width="2.8" />
<line x1="2706.6" y1="753.0" x2="2706.6" y2="763.0" stroke="#1a1a1a" stroke-width="2.8" />
<line x1="2832.9" y1="753.0" x2="2832.9" y2="763.0" stroke="#1a1a1a" stroke-width="2.8" />
<line x1="2959.2" y1="753.0" x2="2959.2" y2="763.0" stroke="#1a1a1a" stroke-width="2.8" />
<line x1="3085.5" y1="753.0" x2="3085.5" y2="763.0" stroke="#1a1a1a" stroke-width="2.8" />
<line x1="2517.2" y1="753.0" x2="2517.2" y2="758.5" stroke="#1a1a1a" stroke-width="2.8" />
<line x1="2643.4" y1="753.0" x2="2643.4" y2="758.5" stroke="#1a1a1a" stroke-width="2.8" />
<line x1="2769.8" y1="753.0" x2="2769.8" y2="758.5" stroke="#1a1a1a" stroke-width="2.8" />
<line x1="2896.1" y1="753.0" x2="2896.1" y2="758.5" stroke="#1a1a1a" stroke-width="2.8" />
<line x1="3022.3" y1="753.0" x2="3022.3" y2="758.5" stroke="#1a1a1a" stroke-width="2.8" />
<line x1="3148.7" y1="753.0" x2="3148.7" y2="758.5" stroke="#1a1a1a" stroke-width="2.8" />
<line x1="2390.8" y1="753.0" x2="2390.8" y2="758.5" stroke="#1a1a1a" stroke-width="2.8" />
<circle cx="2466.6" cy="700.4" r="12" fill="url(#sphG)"/>
<circle cx="2479.3" cy="526.2" r="12" fill="url(#sphG)"/>
<circle cx="2491.9" cy="473.1" r="12" fill="url(#sphG)"/>
<circle cx="2504.5" cy="446.8" r="12" fill="url(#sphG)"/>
<circle cx="2517.2" cy="430.3" r="12" fill="url(#sphG)"/>
<circle cx="2529.8" cy="415.6" r="12" fill="url(#sphG)"/>
<circle cx="2542.4" cy="399.1" r="12" fill="url(#sphG)"/>
<circle cx="2555.0" cy="388.7" r="12" fill="url(#sphG)"/>
<circle cx="2567.7" cy="378.9" r="12" fill="url(#sphG)"/>
<circle cx="2580.3" cy="367.3" r="12" fill="url(#sphG)"/>
<circle cx="2592.9" cy="358.8" r="12" fill="url(#sphG)"/>
<circle cx="2605.6" cy="349.0" r="12" fill="url(#sphG)"/>
<circle cx="2618.2" cy="342.3" r="12" fill="url(#sphG)"/>
<circle cx="2630.8" cy="334.3" r="12" fill="url(#sphG)"/>
<circle cx="2643.4" cy="328.2" r="12" fill="url(#sphG)"/>
<circle cx="2656.1" cy="321.5" r="12" fill="url(#sphG)"/>
<circle cx="2668.7" cy="314.1" r="12" fill="url(#sphG)"/>
<circle cx="2681.3" cy="307.4" r="12" fill="url(#sphG)"/>
<circle cx="2694.0" cy="301.9" r="12" fill="url(#sphG)"/>
<circle cx="2706.6" cy="295.2" r="12" fill="url(#sphG)"/>
<circle cx="2719.2" cy="291.5" r="12" fill="url(#sphG)"/>
<circle cx="2731.9" cy="286.0" r="12" fill="url(#sphG)"/>
<circle cx="2744.5" cy="283.6" r="12" fill="url(#sphG)"/>
<circle cx="2757.1" cy="277.5" r="12" fill="url(#sphG)"/>
<circle cx="2769.8" cy="273.8" r="12" fill="url(#sphG)"/>
<circle cx="2782.4" cy="268.3" r="12" fill="url(#sphG)"/>
<circle cx="2795.0" cy="265.2" r="12" fill="url(#sphG)"/>
<circle cx="2807.6" cy="260.3" r="12" fill="url(#sphG)"/>
<circle cx="2820.3" cy="256.7" r="12" fill="url(#sphG)"/>
<circle cx="2832.9" cy="251.8" r="12" fill="url(#sphG)"/>
<circle cx="2845.5" cy="248.1" r="12" fill="url(#sphG)"/>
<circle cx="2858.2" cy="245.1" r="12" fill="url(#sphG)"/>
<circle cx="2870.8" cy="243.2" r="12" fill="url(#sphG)"/>
<circle cx="2883.4" cy="241.4" r="12" fill="url(#sphG)"/>
<circle cx="2896.1" cy="236.5" r="12" fill="url(#sphG)"/>
<circle cx="2908.7" cy="235.3" r="12" fill="url(#sphG)"/>
<circle cx="2921.3" cy="233.5" r="12" fill="url(#sphG)"/>
<circle cx="2933.9" cy="228.0" r="12" fill="url(#sphG)"/>
<circle cx="2946.6" cy="224.9" r="12" fill="url(#sphG)"/>
<circle cx="2959.2" cy="223.1" r="12" fill="url(#sphG)"/>
<circle cx="2971.8" cy="221.8" r="12" fill="url(#sphG)"/>
<circle cx="2984.5" cy="220.6" r="12" fill="url(#sphG)"/>
<circle cx="2997.1" cy="216.3" r="12" fill="url(#sphG)"/>
<circle cx="3009.7" cy="216.3" r="12" fill="url(#sphG)"/>
<circle cx="3022.3" cy="213.3" r="12" fill="url(#sphG)"/>
<circle cx="3035.0" cy="210.8" r="12" fill="url(#sphG)"/>
<circle cx="3047.6" cy="208.4" r="12" fill="url(#sphG)"/>
<circle cx="3060.2" cy="207.8" r="12" fill="url(#sphG)"/>
<circle cx="3072.9" cy="205.3" r="12" fill="url(#sphG)"/>
<circle cx="3085.5" cy="203.5" r="12" fill="url(#sphG)"/>
<polyline points="2466.6,716.9 2469.8,694.6 2472.9,673.3 2476.1,653.0 2479.3,633.7 2482.4,615.3 2485.6,597.8 2488.7,581.1 2491.9,565.3 2495.0,550.1 2498.2,535.8 2501.4,522.1 2504.5,509.0 2507.7,496.6 2510.8,484.8 2514.0,473.5 2517.2,462.8 2520.3,452.6 2523.5,442.8 2526.6,433.6 2529.8,424.8 2532.9,416.4 2536.1,408.4 2539.3,400.8 2542.4,393.5 2545.6,386.6 2548.7,380.1 2551.9,373.8 2555.0,367.9 2558.2,362.2 2561.4,356.8 2564.5,351.7 2567.7,346.8 2570.8,342.1 2574.0,337.7 2577.1,333.4 2580.3,329.4 2583.5,325.6 2586.6,321.9 2589.8,318.5 2592.9,315.2 2596.1,312.0 2599.2,309.0 2602.4,306.2 2605.6,303.4 2608.7,300.9 2611.9,298.4 2615.0,296.0 2618.2,293.8 2621.3,291.7 2624.5,289.7 2627.7,287.7 2630.8,285.9 2634.0,284.1 2637.1,282.5 2640.3,280.9 2643.4,279.4 2646.6,277.9 2649.8,276.6 2652.9,275.3 2656.1,274.0 2659.2,272.9 2662.4,271.7 2665.6,270.7 2668.7,269.6 2671.9,268.7 2675.0,267.7 2678.2,266.9 2681.3,266.0 2684.5,265.2 2687.7,264.5 2690.8,263.7 2694.0,263.1 2697.1,262.4 2700.3,261.8 2703.4,261.2 2706.6,260.6 2709.8,260.1 2712.9,259.6 2716.1,259.1 2719.2,258.6 2722.4,258.2 2725.5,257.7 2728.7,257.3 2731.9,257.0 2735.0,256.6 2738.2,256.2 2741.3,255.9 2744.5,255.6 2747.6,255.3 2750.8,255.0 2754.0,254.7 2757.1,254.5 2760.3,254.2 2763.4,254.0 2766.6,253.8 2769.8,253.6 2772.9,253.4 2776.1,253.2 2779.2,253.0 2782.4,252.8 2785.5,252.7 2788.7,252.5 2791.9,252.3 2795.0,252.2 2798.2,252.1 2801.3,251.9 2804.5,251.8 2807.6,251.7 2810.8,251.6 2814.0,251.5 2817.1,251.4 2820.3,251.3 2823.4,251.2 2826.6,251.1 2829.7,251.0 2832.9,250.9 2836.1,250.9 2839.2,250.8 2842.4,250.7 2845.5,250.6 2848.7,250.6 2851.8,250.5 2855.0,250.5 2858.2,250.4 2861.3,250.4 2864.5,250.3 2867.6,250.3 2870.8,250.2 2873.9,250.2 2877.1,250.1 2880.3,250.1 2883.4,250.1 2886.6,250.0 2889.7,250.0 2892.9,250.0 2896.1,249.9 2899.2,249.9 2902.4,249.9 2905.5,249.9 2908.7,249.8 2911.8,249.8 2915.0,249.8 2918.2,249.8 2921.3,249.7 2924.5,249.7 2927.6,249.7 2930.8,249.7 2933.9,249.7 2937.1,249.7 2940.3,249.6 2943.4,249.6 2946.6,249.6 2949.7,249.6 2952.9,249.6 2956.0,249.6 2959.2,249.6 2962.4,249.6 2965.5,249.5 2968.7,249.5 2971.8,249.5 2975.0,249.5 2978.1,249.5 2981.3,249.5 2984.5,249.5 2987.6,249.5 2990.8,249.5 2993.9,249.5 2997.1,249.5 3000.2,249.5 3003.4,249.5 3006.6,249.5 3009.7,249.4 3012.9,249.4 3016.0,249.4 3019.2,249.4 3022.3,249.4 3025.5,249.4 3028.7,249.4 3031.8,249.4 3035.0,249.4 3038.1,249.4 3041.3,249.4 3044.5,249.4 3047.6,249.4 3050.8,249.4 3053.9,249.4 3057.1,249.4 3060.2,249.4 3063.4,249.4 3066.6,249.4 3069.7,249.4 3072.9,249.4 3076.0,249.4 3079.2,249.4 3082.3,249.4 3085.5,249.4" fill="none" stroke="#e3202f" stroke-width="2.8"/>
<rect x="2390.4" y="1134" width="756.5999999999999" height="609" fill="none" stroke="#1a1a1a" stroke-width="3"/>
<line x1="2380.4" y1="1691.5" x2="2390.4" y2="1691.5" stroke="#1a1a1a" stroke-width="2.8" />
<line x1="2380.4" y1="1589.9" x2="2390.4" y2="1589.9" stroke="#1a1a1a" stroke-width="2.8" />
<line x1="2380.4" y1="1488.3" x2="2390.4" y2="1488.3" stroke="#1a1a1a" stroke-width="2.8" />
<line x1="2380.4" y1="1386.7" x2="2390.4" y2="1386.7" stroke="#1a1a1a" stroke-width="2.8" />
<line x1="2380.4" y1="1285.1" x2="2390.4" y2="1285.1" stroke="#1a1a1a" stroke-width="2.8" />
<line x1="2380.4" y1="1183.5" x2="2390.4" y2="1183.5" stroke="#1a1a1a" stroke-width="2.8" />
<line x1="2384.9" y1="1742.3" x2="2390.4" y2="1742.3" stroke="#1a1a1a" stroke-width="2.8" />
<line x1="2384.9" y1="1640.7" x2="2390.4" y2="1640.7" stroke="#1a1a1a" stroke-width="2.8" />
<line x1="2384.9" y1="1539.1" x2="2390.4" y2="1539.1" stroke="#1a1a1a" stroke-width="2.8" />
<line x1="2384.9" y1="1437.5" x2="2390.4" y2="1437.5" stroke="#1a1a1a" stroke-width="2.8" />
<line x1="2384.9" y1="1335.9" x2="2390.4" y2="1335.9" stroke="#1a1a1a" stroke-width="2.8" />
<line x1="2384.9" y1="1234.3" x2="2390.4" y2="1234.3" stroke="#1a1a1a" stroke-width="2.8" />
<line x1="2454.0" y1="1743.0" x2="2454.0" y2="1753.0" stroke="#1a1a1a" stroke-width="2.8" />
<line x1="2580.3" y1="1743.0" x2="2580.3" y2="1753.0" stroke="#1a1a1a" stroke-width="2.8" />
<line x1="2706.6" y1="1743.0" x2="2706.6" y2="1753.0" stroke="#1a1a1a" stroke-width="2.8" />
<line x1="2832.9" y1="1743.0" x2="2832.9" y2="1753.0" stroke="#1a1a1a" stroke-width="2.8" />
<line x1="2959.2" y1="1743.0" x2="2959.2" y2="1753.0" stroke="#1a1a1a" stroke-width="2.8" />
<line x1="3085.5" y1="1743.0" x2="3085.5" y2="1753.0" stroke="#1a1a1a" stroke-width="2.8" />
<line x1="2517.2" y1="1743.0" x2="2517.2" y2="1748.5" stroke="#1a1a1a" stroke-width="2.8" />
<line x1="2643.4" y1="1743.0" x2="2643.4" y2="1748.5" stroke="#1a1a1a" stroke-width="2.8" />
<line x1="2769.8" y1="1743.0" x2="2769.8" y2="1748.5" stroke="#1a1a1a" stroke-width="2.8" />
<line x1="2896.1" y1="1743.0" x2="2896.1" y2="1748.5" stroke="#1a1a1a" stroke-width="2.8" />
<line x1="3022.3" y1="1743.0" x2="3022.3" y2="1748.5" stroke="#1a1a1a" stroke-width="2.8" />
<line x1="3148.7" y1="1743.0" x2="3148.7" y2="1748.5" stroke="#1a1a1a" stroke-width="2.8" />
<line x1="2390.8" y1="1743.0" x2="2390.8" y2="1748.5" stroke="#1a1a1a" stroke-width="2.8" />
<circle cx="2466.6" cy="1682.9" r="12" fill="url(#sphR)"/>
<circle cx="2479.3" cy="1536.6" r="12" fill="url(#sphR)"/>
<circle cx="2491.9" cy="1486.8" r="12" fill="url(#sphR)"/>
<circle cx="2504.5" cy="1457.8" r="12" fill="url(#sphR)"/>
<circle cx="2517.2" cy="1438.5" r="12" fill="url(#sphR)"/>
<circle cx="2529.8" cy="1421.2" r="12" fill="url(#sphR)"/>
<circle cx="2542.4" cy="1404.5" r="12" fill="url(#sphR)"/>
<circle cx="2555.0" cy="1391.3" r="12" fill="url(#sphR)"/>
<circle cx="2567.7" cy="1380.1" r="12" fill="url(#sphR)"/>
<circle cx="2580.3" cy="1369.4" r="12" fill="url(#sphR)"/>
<circle cx="2592.9" cy="1357.2" r="12" fill="url(#sphR)"/>
<circle cx="2605.6" cy="1351.1" r="12" fill="url(#sphR)"/>
<circle cx="2618.2" cy="1343.0" r="12" fill="url(#sphR)"/>
<circle cx="2630.8" cy="1335.4" r="12" fill="url(#sphR)"/>
<circle cx="2643.4" cy="1327.8" r="12" fill="url(#sphR)"/>
<circle cx="2656.1" cy="1321.7" r="12" fill="url(#sphR)"/>
<circle cx="2668.7" cy="1314.1" r="12" fill="url(#sphR)"/>
<circle cx="2681.3" cy="1308.5" r="12" fill="url(#sphR)"/>
<circle cx="2694.0" cy="1300.8" r="12" fill="url(#sphR)"/>
<circle cx="2706.6" cy="1296.8" r="12" fill="url(#sphR)"/>
<circle cx="2719.2" cy="1290.2" r="12" fill="url(#sphR)"/>
<circle cx="2731.9" cy="1286.6" r="12" fill="url(#sphR)"/>
<circle cx="2744.5" cy="1279.0" r="12" fill="url(#sphR)"/>
<circle cx="2757.1" cy="1274.4" r="12" fill="url(#sphR)"/>
<circle cx="2769.8" cy="1269.9" r="12" fill="url(#sphR)"/>
<circle cx="2782.4" cy="1265.3" r="12" fill="url(#sphR)"/>
<circle cx="2795.0" cy="1261.2" r="12" fill="url(#sphR)"/>
<circle cx="2807.6" cy="1257.2" r="12" fill="url(#sphR)"/>
<circle cx="2820.3" cy="1250.6" r="12" fill="url(#sphR)"/>
<circle cx="2832.9" cy="1249.0" r="12" fill="url(#sphR)"/>
<circle cx="2845.5" cy="1248.0" r="12" fill="url(#sphR)"/>
<circle cx="2858.2" cy="1240.9" r="12" fill="url(#sphR)"/>
<circle cx="2870.8" cy="1238.9" r="12" fill="url(#sphR)"/>
<circle cx="2883.4" cy="1231.8" r="12" fill="url(#sphR)"/>
<circle cx="2896.1" cy="1228.7" r="12" fill="url(#sphR)"/>
<circle cx="2908.7" cy="1225.7" r="12" fill="url(#sphR)"/>
<circle cx="2921.3" cy="1221.6" r="12" fill="url(#sphR)"/>
<circle cx="2933.9" cy="1219.6" r="12" fill="url(#sphR)"/>
<circle cx="2946.6" cy="1215.5" r="12" fill="url(#sphR)"/>
<circle cx="2959.2" cy="1211.9" r="12" fill="url(#sphR)"/>
<circle cx="2971.8" cy="1210.9" r="12" fill="url(#sphR)"/>
<circle cx="2984.5" cy="1206.4" r="12" fill="url(#sphR)"/>
<circle cx="2997.1" cy="1203.3" r="12" fill="url(#sphR)"/>
<circle cx="3009.7" cy="1200.3" r="12" fill="url(#sphR)"/>
<circle cx="3022.3" cy="1197.2" r="12" fill="url(#sphR)"/>
<circle cx="3035.0" cy="1194.2" r="12" fill="url(#sphR)"/>
<circle cx="3047.6" cy="1191.1" r="12" fill="url(#sphR)"/>
<circle cx="3060.2" cy="1189.6" r="12" fill="url(#sphR)"/>
<circle cx="3072.9" cy="1187.1" r="12" fill="url(#sphR)"/>
<circle cx="3085.5" cy="1184.0" r="12" fill="url(#sphR)"/>
<polyline points="2466.6,1641.2 2469.8,1629.6 2472.9,1618.2 2476.1,1607.2 2479.3,1596.5 2482.4,1586.1 2485.6,1576.0 2488.7,1566.1 2491.9,1556.6 2495.0,1547.2 2498.2,1538.2 2501.4,1529.4 2504.5,1520.8 2507.7,1512.5 2510.8,1504.4 2514.0,1496.6 2517.2,1488.9 2520.3,1481.5 2523.5,1474.3 2526.6,1467.2 2529.8,1460.4 2532.9,1453.8 2536.1,1447.3 2539.3,1441.0 2542.4,1434.9 2545.6,1429.0 2548.7,1423.2 2551.9,1417.6 2555.0,1412.1 2558.2,1406.8 2561.4,1401.7 2564.5,1396.7 2567.7,1391.8 2570.8,1387.0 2574.0,1382.4 2577.1,1378.0 2580.3,1373.6 2583.5,1369.4 2586.6,1365.2 2589.8,1361.2 2592.9,1357.3 2596.1,1353.5 2599.2,1349.9 2602.4,1346.3 2605.6,1342.8 2608.7,1339.4 2611.9,1336.1 2615.0,1332.9 2618.2,1329.8 2621.3,1326.8 2624.5,1323.8 2627.7,1321.0 2630.8,1318.2 2634.0,1315.5 2637.1,1312.9 2640.3,1310.3 2643.4,1307.8 2646.6,1305.4 2649.8,1303.1 2652.9,1300.8 2656.1,1298.6 2659.2,1296.4 2662.4,1294.3 2665.6,1292.3 2668.7,1290.3 2671.9,1288.3 2675.0,1286.5 2678.2,1284.6 2681.3,1282.9 2684.5,1281.1 2687.7,1279.5 2690.8,1277.8 2694.0,1276.2 2697.1,1274.7 2700.3,1273.2 2703.4,1271.7 2706.6,1270.3 2709.8,1269.0 2712.9,1267.6 2716.1,1266.3 2719.2,1265.0 2722.4,1263.8 2725.5,1262.6 2728.7,1261.4 2731.9,1260.3 2735.0,1259.2 2738.2,1258.1 2741.3,1257.1 2744.5,1256.1 2747.6,1255.1 2750.8,1254.2 2754.0,1253.2 2757.1,1252.3 2760.3,1251.4 2763.4,1250.6 2766.6,1249.8 2769.8,1248.9 2772.9,1248.2 2776.1,1247.4 2779.2,1246.7 2782.4,1245.9 2785.5,1245.2 2788.7,1244.5 2791.9,1243.9 2795.0,1243.2 2798.2,1242.6 2801.3,1242.0 2804.5,1241.4 2807.6,1240.8 2810.8,1240.3 2814.0,1239.7 2817.1,1239.2 2820.3,1238.7 2823.4,1238.2 2826.6,1237.7 2829.7,1237.2 2832.9,1236.8 2836.1,1236.3 2839.2,1235.9 2842.4,1235.4 2845.5,1235.0 2848.7,1234.6 2851.8,1234.2 2855.0,1233.9 2858.2,1233.5 2861.3,1233.1 2864.5,1232.8 2867.6,1232.5 2870.8,1232.1 2873.9,1231.8 2877.1,1231.5 2880.3,1231.2 2883.4,1230.9 2886.6,1230.6 2889.7,1230.3 2892.9,1230.1 2896.1,1229.8 2899.2,1229.5 2902.4,1229.3 2905.5,1229.1 2908.7,1228.8 2911.8,1228.6 2915.0,1228.4 2918.2,1228.2 2921.3,1227.9 2924.5,1227.7 2927.6,1227.5 2930.8,1227.4 2933.9,1227.2 2937.1,1227.0 2940.3,1226.8 2943.4,1226.6 2946.6,1226.5 2949.7,1226.3 2952.9,1226.1 2956.0,1226.0 2959.2,1225.8 2962.4,1225.7 2965.5,1225.6 2968.7,1225.4 2971.8,1225.3 2975.0,1225.2 2978.1,1225.0 2981.3,1224.9 2984.5,1224.8 2987.6,1224.7 2990.8,1224.6 2993.9,1224.4 2997.1,1224.3 3000.2,1224.2 3003.4,1224.1 3006.6,1224.0 3009.7,1223.9 3012.9,1223.8 3016.0,1223.8 3019.2,1223.7 3022.3,1223.6 3025.5,1223.5 3028.7,1223.4 3031.8,1223.3 3035.0,1223.3 3038.1,1223.2 3041.3,1223.1 3044.5,1223.0 3047.6,1223.0 3050.8,1222.9 3053.9,1222.8 3057.1,1222.8 3060.2,1222.7 3063.4,1222.7 3066.6,1222.6 3069.7,1222.6 3072.9,1222.5 3076.0,1222.4 3079.2,1222.4 3082.3,1222.3 3085.5,1222.3" fill="none" stroke="#e3202f" stroke-width="2.8"/>
<rect x="2390.4" y="2043" width="756.5999999999999" height="610" fill="none" stroke="#1a1a1a" stroke-width="3"/>
<line x1="2380.4" y1="2652.5" x2="2390.4" y2="2652.5" stroke="#1a1a1a" stroke-width="2.8" />
<line x1="2380.4" y1="2580.8" x2="2390.4" y2="2580.8" stroke="#1a1a1a" stroke-width="2.8" />
<line x1="2380.4" y1="2509.0" x2="2390.4" y2="2509.0" stroke="#1a1a1a" stroke-width="2.8" />
<line x1="2380.4" y1="2437.2" x2="2390.4" y2="2437.2" stroke="#1a1a1a" stroke-width="2.8" />
<line x1="2380.4" y1="2365.5" x2="2390.4" y2="2365.5" stroke="#1a1a1a" stroke-width="2.8" />
<line x1="2380.4" y1="2293.8" x2="2390.4" y2="2293.8" stroke="#1a1a1a" stroke-width="2.8" />
<line x1="2380.4" y1="2222.0" x2="2390.4" y2="2222.0" stroke="#1a1a1a" stroke-width="2.8" />
<line x1="2380.4" y1="2150.2" x2="2390.4" y2="2150.2" stroke="#1a1a1a" stroke-width="2.8" />
<line x1="2380.4" y1="2078.5" x2="2390.4" y2="2078.5" stroke="#1a1a1a" stroke-width="2.8" />
<line x1="2384.9" y1="2616.6" x2="2390.4" y2="2616.6" stroke="#1a1a1a" stroke-width="2.8" />
<line x1="2384.9" y1="2544.9" x2="2390.4" y2="2544.9" stroke="#1a1a1a" stroke-width="2.8" />
<line x1="2384.9" y1="2473.1" x2="2390.4" y2="2473.1" stroke="#1a1a1a" stroke-width="2.8" />
<line x1="2384.9" y1="2401.4" x2="2390.4" y2="2401.4" stroke="#1a1a1a" stroke-width="2.8" />
<line x1="2384.9" y1="2329.6" x2="2390.4" y2="2329.6" stroke="#1a1a1a" stroke-width="2.8" />
<line x1="2384.9" y1="2257.9" x2="2390.4" y2="2257.9" stroke="#1a1a1a" stroke-width="2.8" />
<line x1="2384.9" y1="2186.1" x2="2390.4" y2="2186.1" stroke="#1a1a1a" stroke-width="2.8" />
<line x1="2384.9" y1="2114.4" x2="2390.4" y2="2114.4" stroke="#1a1a1a" stroke-width="2.8" />
<line x1="2384.9" y1="2042.6" x2="2390.4" y2="2042.6" stroke="#1a1a1a" stroke-width="2.8" />
<line x1="2425.5" y1="2653.0" x2="2425.5" y2="2663.0" stroke="#1a1a1a" stroke-width="2.8" />
<line x1="2597.4" y1="2653.0" x2="2597.4" y2="2663.0" stroke="#1a1a1a" stroke-width="2.8" />
<line x1="2769.2" y1="2653.0" x2="2769.2" y2="2663.0" stroke="#1a1a1a" stroke-width="2.8" />
<line x1="2941.1" y1="2653.0" x2="2941.1" y2="2663.0" stroke="#1a1a1a" stroke-width="2.8" />
<line x1="3113.0" y1="2653.0" x2="3113.0" y2="2663.0" stroke="#1a1a1a" stroke-width="2.8" />
<line x1="2511.4" y1="2653.0" x2="2511.4" y2="2658.5" stroke="#1a1a1a" stroke-width="2.8" />
<line x1="2683.3" y1="2653.0" x2="2683.3" y2="2658.5" stroke="#1a1a1a" stroke-width="2.8" />
<line x1="2855.2" y1="2653.0" x2="2855.2" y2="2658.5" stroke="#1a1a1a" stroke-width="2.8" />
<line x1="3027.1" y1="2653.0" x2="3027.1" y2="2658.5" stroke="#1a1a1a" stroke-width="2.8" />
<polyline points="2459.9,2609.4 2494.2,2552.1 2528.6,2523.3 2563.0,2408.6 2597.4,2279.4 2631.8,2293.8 2666.1,2265.1 2700.5,2293.8 2734.9,2279.4 2769.2,2279.4 2803.6,2293.8 2838.0,2279.4 2872.4,2279.4 2906.8,2293.8 2941.1,2193.3 2975.5,2164.6 3009.9,2150.2 3044.2,2135.9 3078.6,2164.6 3113.0,2135.9" fill="none" stroke="#4a4c52" stroke-width="3"/>
<polyline points="2459.9,2434.4 2494.2,2255.0 2528.6,2243.5 2563.0,2259.3 2597.4,2239.2 2631.8,2237.8 2666.1,2239.2 2700.5,2236.3 2734.9,2246.4 2769.2,2234.9 2803.6,2237.8 2838.0,2097.2 2872.4,2104.3 2906.8,2123.0 2941.1,2097.2 2975.5,2092.8 3009.9,2101.5 3044.2,2104.3 3078.6,2112.9 3113.0,2094.3" fill="none" stroke="#e3202f" stroke-width="3"/>
<circle cx="2459.9" cy="2609.4" r="12" fill="url(#sphD)"/>
<circle cx="2494.2" cy="2552.1" r="12" fill="url(#sphD)"/>
<circle cx="2528.6" cy="2523.3" r="12" fill="url(#sphD)"/>
<circle cx="2563.0" cy="2408.6" r="12" fill="url(#sphD)"/>
<circle cx="2597.4" cy="2279.4" r="12" fill="url(#sphD)"/>
<circle cx="2631.8" cy="2293.8" r="12" fill="url(#sphD)"/>
<circle cx="2666.1" cy="2265.1" r="12" fill="url(#sphD)"/>
<circle cx="2700.5" cy="2293.8" r="12" fill="url(#sphD)"/>
<circle cx="2734.9" cy="2279.4" r="12" fill="url(#sphD)"/>
<circle cx="2769.2" cy="2279.4" r="12" fill="url(#sphD)"/>
<circle cx="2803.6" cy="2293.8" r="12" fill="url(#sphD)"/>
<circle cx="2838.0" cy="2279.4" r="12" fill="url(#sphD)"/>
<circle cx="2872.4" cy="2279.4" r="12" fill="url(#sphD)"/>
<circle cx="2906.8" cy="2293.8" r="12" fill="url(#sphD)"/>
<circle cx="2941.1" cy="2193.3" r="12" fill="url(#sphD)"/>
<circle cx="2975.5" cy="2164.6" r="12" fill="url(#sphD)"/>
<circle cx="3009.9" cy="2150.2" r="12" fill="url(#sphD)"/>
<circle cx="3044.2" cy="2135.9" r="12" fill="url(#sphD)"/>
<circle cx="3078.6" cy="2164.6" r="12" fill="url(#sphD)"/>
<circle cx="3113.0" cy="2135.9" r="12" fill="url(#sphD)"/>
<circle cx="2459.9" cy="2434.4" r="12" fill="url(#sphF)"/>
<circle cx="2494.2" cy="2255.0" r="12" fill="url(#sphF)"/>
<circle cx="2528.6" cy="2243.5" r="12" fill="url(#sphF)"/>
<circle cx="2563.0" cy="2259.3" r="12" fill="url(#sphF)"/>
<circle cx="2597.4" cy="2239.2" r="12" fill="url(#sphF)"/>
<circle cx="2631.8" cy="2237.8" r="12" fill="url(#sphF)"/>
<circle cx="2666.1" cy="2239.2" r="12" fill="url(#sphF)"/>
<circle cx="2700.5" cy="2236.3" r="12" fill="url(#sphF)"/>
<circle cx="2734.9" cy="2246.4" r="12" fill="url(#sphF)"/>
<circle cx="2769.2" cy="2234.9" r="12" fill="url(#sphF)"/>
<circle cx="2803.6" cy="2237.8" r="12" fill="url(#sphF)"/>
<circle cx="2838.0" cy="2097.2" r="12" fill="url(#sphF)"/>
<circle cx="2872.4" cy="2104.3" r="12" fill="url(#sphF)"/>
<circle cx="2906.8" cy="2123.0" r="12" fill="url(#sphF)"/>
<circle cx="2941.1" cy="2097.2" r="12" fill="url(#sphF)"/>
<circle cx="2975.5" cy="2092.8" r="12" fill="url(#sphF)"/>
<circle cx="3009.9" cy="2101.5" r="12" fill="url(#sphF)"/>
<circle cx="3044.2" cy="2104.3" r="12" fill="url(#sphF)"/>
<circle cx="3078.6" cy="2112.9" r="12" fill="url(#sphF)"/>
<circle cx="3113.0" cy="2094.3" r="12" fill="url(#sphF)"/>
<text x="2370.0" y="703.7" font-size="39.5" font-weight="bold" fill="#111"  text-anchor="end" >0.2</text>
<text x="2370.0" y="581.5" font-size="39.5" font-weight="bold" fill="#111"  text-anchor="end" >0.4</text>
<text x="2370.0" y="459.2" font-size="39.5" font-weight="bold" fill="#111"  text-anchor="end" >0.6</text>
<text x="2370.0" y="336.9" font-size="39.5" font-weight="bold" fill="#111"  text-anchor="end" >0.8</text>
<text x="2370.0" y="214.7" font-size="39.5" font-weight="bold" fill="#111"  text-anchor="end" >1.0</text>
<text x="2370.0" y="1702.7" font-size="39.5" font-weight="bold" fill="#111"  text-anchor="end" >0.0</text>
<text x="2370.0" y="1601.1" font-size="39.5" font-weight="bold" fill="#111"  text-anchor="end" >0.2</text>
<text x="2370.0" y="1499.5" font-size="39.5" font-weight="bold" fill="#111"  text-anchor="end" >0.4</text>
<text x="2370.0" y="1397.9" font-size="39.5" font-weight="bold" fill="#111"  text-anchor="end" >0.6</text>
<text x="2370.0" y="1296.3" font-size="39.5" font-weight="bold" fill="#111"  text-anchor="end" >0.8</text>
<text x="2370.0" y="1194.7" font-size="39.5" font-weight="bold" fill="#111"  text-anchor="end" >1.0</text>
<text x="2454.0" y="804.5" font-size="40" font-weight="bold" fill="#111"  text-anchor="middle" >0</text>
<text x="2454.0" y="1795.0" font-size="40" font-weight="bold" fill="#111"  text-anchor="middle" >0</text>
<text x="2580.3" y="804.5" font-size="40" font-weight="bold" fill="#111"  text-anchor="middle" >10</text>
<text x="2580.3" y="1795.0" font-size="40" font-weight="bold" fill="#111"  text-anchor="middle" >10</text>
<text x="2706.6" y="804.5" font-size="40" font-weight="bold" fill="#111"  text-anchor="middle" >20</text>
<text x="2706.6" y="1795.0" font-size="40" font-weight="bold" fill="#111"  text-anchor="middle" >20</text>
<text x="2832.9" y="804.5" font-size="40" font-weight="bold" fill="#111"  text-anchor="middle" >30</text>
<text x="2832.9" y="1795.0" font-size="40" font-weight="bold" fill="#111"  text-anchor="middle" >30</text>
<text x="2959.2" y="804.5" font-size="40" font-weight="bold" fill="#111"  text-anchor="middle" >40</text>
<text x="2959.2" y="1795.0" font-size="40" font-weight="bold" fill="#111"  text-anchor="middle" >40</text>
<text x="3085.5" y="804.5" font-size="40" font-weight="bold" fill="#111"  text-anchor="middle" >50</text>
<text x="3085.5" y="1795.0" font-size="40" font-weight="bold" fill="#111"  text-anchor="middle" >50</text>
<text x="2370.0" y="2665.1" font-size="41.5" font-weight="bold" fill="#111"  text-anchor="end" >50</text>
<text x="2370.0" y="2593.3" font-size="41.5" font-weight="bold" fill="#111"  text-anchor="end" >55</text>
<text x="2370.0" y="2521.6" font-size="41.5" font-weight="bold" fill="#111"  text-anchor="end" >60</text>
<text x="2370.0" y="2449.8" font-size="41.5" font-weight="bold" fill="#111"  text-anchor="end" >65</text>
<text x="2370.0" y="2378.1" font-size="41.5" font-weight="bold" fill="#111"  text-anchor="end" >70</text>
<text x="2370.0" y="2306.3" font-size="41.5" font-weight="bold" fill="#111"  text-anchor="end" >75</text>
<text x="2370.0" y="2234.6" font-size="41.5" font-weight="bold" fill="#111"  text-anchor="end" >80</text>
<text x="2370.0" y="2162.8" font-size="41.5" font-weight="bold" fill="#111"  text-anchor="end" >85</text>
<text x="2370.0" y="2091.1" font-size="41.5" font-weight="bold" fill="#111"  text-anchor="end" >90</text>
<text x="2425.5" y="2705.0" font-size="40" font-weight="bold" fill="#111"  text-anchor="middle" >0</text>
<text x="2597.4" y="2705.0" font-size="40" font-weight="bold" fill="#111"  text-anchor="middle" >5</text>
<text x="2769.2" y="2705.0" font-size="40" font-weight="bold" fill="#111"  text-anchor="middle" >10</text>
<text x="2941.1" y="2705.0" font-size="40" font-weight="bold" fill="#111"  text-anchor="middle" >15</text>
<text x="3113.0" y="2705.0" font-size="40" font-weight="bold" fill="#111"  text-anchor="middle" >20</text>
<text x="2661.0" y="880.7" font-size="51.5" font-weight="bold" fill="#111" textLength="215.0" lengthAdjust="spacingAndGlyphs"  >Pulse (#)</text>
<text x="2661.0" y="1871.5" font-size="51.5" font-weight="bold" fill="#111" textLength="215.0" lengthAdjust="spacingAndGlyphs"  >Pulse (#)</text>
<text x="2661.0" y="2780.0" font-size="51.5" font-weight="bold" fill="#111" textLength="215.0" lengthAdjust="spacingAndGlyphs"  >Pulse (#)</text>
<text transform="translate(2297,756) rotate(-90)" font-size="52" font-weight="bold" fill="#111" textLength="619" lengthAdjust="spacingAndGlyphs">Normalized Conductance</text>
<text transform="translate(2297,1746) rotate(-90)" font-size="52" font-weight="bold" fill="#111" textLength="619" lengthAdjust="spacingAndGlyphs">Normalized Conductance</text>
<text transform="translate(2308.3,2521) rotate(-90)" font-size="52" font-weight="bold" fill="#111" textLength="345" lengthAdjust="spacingAndGlyphs">Accurarcy (%)</text>
<text x="2551.0" y="667.4" font-size="50" font-weight="bold" fill="#111"   >A</text>
<text x="2588.5" y="681.0" font-size="35" font-weight="bold" fill="#111"   >p</text>
<text x="2619.0" y="667.4" font-size="50" font-weight="bold" fill="#111" textLength="478.0" lengthAdjust="spacingAndGlyphs"  >(First learning): 4.45</text>
<text x="2628.5" y="1675.2" font-size="52.5" font-weight="bold" fill="#111"   >A</text>
<text x="2667.5" y="1689.0" font-size="36" font-weight="bold" fill="#111"   >p</text>
<clipPath id="clipE"><rect x="2390" y="1134" width="727.5" height="610"/></clipPath>
<text x="2700.0" y="1675.2" font-size="52.8" font-weight="bold" fill="#111"   clip-path="url(#clipE)">(Relearning): 3.85</text>
<text x="2756.0" y="2379.9" font-size="46" font-weight="bold" fill="#e3202f" textLength="85.0" lengthAdjust="spacingAndGlyphs"  >Acc</text>
<text x="2841.0" y="2392.2" font-size="32" font-weight="bold" fill="#e3202f" textLength="35.0" lengthAdjust="spacingAndGlyphs"  >20</text>
<text x="2887.0" y="2379.9" font-size="46" font-weight="bold" fill="#e3202f" textLength="182.0" lengthAdjust="spacingAndGlyphs"  >(R): 89%</text>
<text x="2756.0" y="2459.2" font-size="45" font-weight="bold" fill="#111" textLength="85.0" lengthAdjust="spacingAndGlyphs"  >Acc</text>
<text x="2841.0" y="2471.9" font-size="32" font-weight="bold" fill="#111" textLength="35.0" lengthAdjust="spacingAndGlyphs"  >20</text>
<text x="2888.0" y="2459.2" font-size="45" font-weight="bold" fill="#111" textLength="241.0" lengthAdjust="spacingAndGlyphs"  >(L): 85.97%</text>
<line x1="2765.5" y1="2531.0" x2="2850.5" y2="2531.0" stroke="#4a4c52" stroke-width="3.2" />
<circle cx="2808.0" cy="2531.0" r="14.5" fill="url(#sphD)"/>
<text x="2862.0" y="2544.6" font-size="47" font-weight="bold" fill="#111" textLength="198.0" lengthAdjust="spacingAndGlyphs"  >Learning</text>
<line x1="2765.5" y1="2590.5" x2="2850.5" y2="2590.5" stroke="#e3202f" stroke-width="3.2" />
<circle cx="2808.0" cy="2590.5" r="14.5" fill="url(#sphF)"/>
<text x="2862.0" y="2604.0" font-size="47" font-weight="bold" fill="#111" textLength="242.0" lengthAdjust="spacingAndGlyphs"  >Relearning</text>
<use href="#headG"/>
<use href="#headG" transform="translate(0,465)"/>
</svg>
</body></html>
